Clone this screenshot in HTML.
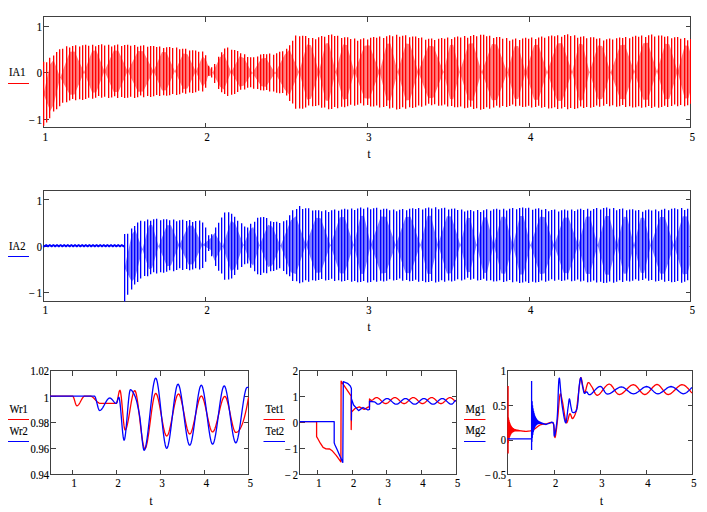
<!DOCTYPE html>
<html><head><meta charset="utf-8"><style>
html,body{margin:0;padding:0;background:#fff;width:707px;height:512px;overflow:hidden}
svg{display:block}
text{font-family:"Liberation Serif",serif;fill:#000;stroke:#000;stroke-width:0.15px}
</style></head><body>
<svg width="707" height="512" viewBox="0 0 707 512">
<defs>
<clipPath id="c1"><rect x="43" y="16" width="648" height="112"/></clipPath>
<clipPath id="c2"><rect x="43" y="190" width="648" height="112"/></clipPath>
</defs>
<rect width="707" height="512" fill="#fff"/>
<path d='M43.5,16.5H690.5V127.5H43.5Z' fill='none' stroke='#404040' stroke-width='1' shape-rendering='crispEdges'/>
<path d='M43.5,26.5h5M690.5,26.5h-5M43.5,72.5h5M690.5,72.5h-5M43.5,119.5h5M690.5,119.5h-5M205.5,127.5v-5M205.5,16.5v5M367.5,127.5v-5M367.5,16.5v5M529.5,127.5v-5M529.5,16.5v5' fill='none' stroke='#404040' stroke-width='1' shape-rendering='crispEdges'/>
<clipPath id='envc1'><polygon points='43.5,64 44.5,63.88 45.5,63.76 46.5,63.64 47.5,62.78 48.5,61.6 49.5,60.42 50.5,59.24 51.5,58.04 52.5,56.85 53.5,55.65 54.5,54.91 55.5,54.23 56.5,53.55 57.5,52.87 58.5,52.19 59.5,51.5 60.5,50.84 61.5,50.35 62.5,49.86 63.5,49.37 64.5,48.88 65.5,48.38 66.5,47.89 67.5,47.54 68.5,47.5 69.5,47.47 70.5,47.43 71.5,47.4 72.5,47.36 73.5,47.32 74.5,47.29 75.5,47.25 76.5,47.22 77.5,47.18 78.5,47.14 79.5,47.11 80.5,47.07 81.5,47.04 82.5,47 83.5,46.97 84.5,46.93 85.5,46.89 86.5,46.86 87.5,46.82 88.5,46.79 89.5,46.75 90.5,46.71 91.5,46.68 92.5,46.64 93.5,46.61 94.5,46.57 95.5,46.53 96.5,46.5 97.5,46.46 98.5,46.43 99.5,46.39 100.5,46.38 101.5,46.39 102.5,46.4 103.5,46.41 104.5,46.42 105.5,46.44 106.5,46.45 107.5,46.46 108.5,46.47 109.5,46.48 110.5,46.49 111.5,46.5 112.5,46.52 113.5,46.53 114.5,46.54 115.5,46.55 116.5,46.56 117.5,46.57 118.5,46.58 119.5,46.6 120.5,46.61 121.5,46.62 122.5,46.63 123.5,46.64 124.5,46.65 125.5,46.66 126.5,46.67 127.5,46.69 128.5,46.7 129.5,46.71 130.5,46.72 131.5,46.73 132.5,46.74 133.5,46.75 134.5,46.79 135.5,46.84 136.5,46.9 137.5,46.96 138.5,47.01 139.5,47.07 140.5,47.13 141.5,47.18 142.5,47.24 143.5,47.3 144.5,47.35 145.5,47.41 146.5,47.47 147.5,47.52 148.5,47.58 149.5,47.63 150.5,47.69 151.5,47.75 152.5,47.8 153.5,47.86 154.5,47.92 155.5,47.97 156.5,48.03 157.5,48.09 158.5,48.14 159.5,48.2 160.5,48.26 161.5,48.31 162.5,48.37 163.5,48.43 164.5,48.48 165.5,48.54 166.5,48.59 167.5,48.65 168.5,48.71 169.5,48.76 170.5,48.82 171.5,48.88 172.5,48.93 173.5,48.99 174.5,49.05 175.5,49.1 176.5,49.16 177.5,49.22 178.5,49.27 179.5,49.33 180.5,49.45 181.5,49.64 182.5,49.83 183.5,50.02 184.5,50.2 185.5,50.39 186.5,50.58 187.5,50.77 188.5,50.96 189.5,51.15 190.5,51.34 191.5,51.52 192.5,51.71 193.5,51.9 194.5,52.09 195.5,52.28 196.5,52.47 197.5,52.61 198.5,52.71 199.5,52.81 200.5,52.91 201.5,53 202.5,53.1 203.5,53.2 204.5,53.3 205.5,56.39 206.5,59.93 207.5,63.94 208.5,66.27 209.5,66.93 210.5,67.59 211.5,67.91 212.5,68.19 213.5,67.31 214.5,65.28 215.5,63.24 216.5,61.25 217.5,59.32 218.5,57.39 219.5,55.46 220.5,53.53 221.5,52.15 222.5,51.33 223.5,50.52 224.5,49.7 225.5,48.89 226.5,48.85 227.5,49.15 228.5,49.45 229.5,49.75 230.5,50.06 231.5,50.39 232.5,50.75 233.5,51.11 234.5,51.48 235.5,51.84 236.5,52.2 237.5,52.56 238.5,52.93 239.5,53.3 240.5,53.78 241.5,54.26 242.5,54.75 243.5,55.23 244.5,55.71 245.5,56.19 246.5,56.67 247.5,57.15 248.5,57.54 249.5,57.85 250.5,58.17 251.5,58.49 252.5,58.81 253.5,58.73 254.5,58.26 255.5,57.8 256.5,57.33 257.5,56.86 258.5,56.39 259.5,55.92 260.5,55.72 261.5,55.63 262.5,55.54 263.5,55.46 264.5,55.37 265.5,55.28 266.5,55.2 267.5,55.11 268.5,55.04 269.5,55.05 270.5,55.05 271.5,55.06 272.5,55.06 273.5,55.07 274.5,55.07 275.5,54.89 276.5,54.51 277.5,54.14 278.5,53.76 279.5,53.39 280.5,53.01 281.5,52.64 282.5,52.27 283.5,51.89 284.5,51.36 285.5,50.81 286.5,49.46 287.5,47.31 288.5,45.84 289.5,45.05 290.5,44.24 291.5,43.38 292.5,42.27 293.5,40.93 294.5,39.58 295.5,38.22 296.5,36.88 297.5,36.33 298.5,36.59 299.5,36.84 300.5,37.1 301.5,37.36 302.5,37.61 303.5,37.87 304.5,38.13 305.5,38.38 306.5,38.64 307.5,38.9 308.5,39.15 309.5,39.41 310.5,39.67 311.5,39.92 312.5,39.87 313.5,39.69 314.5,39.5 315.5,39.32 316.5,39.13 317.5,38.95 318.5,38.76 319.5,38.58 320.5,38.39 321.5,38.21 322.5,38.03 323.5,37.84 324.5,37.66 325.5,37.47 326.5,37.29 327.5,37.1 328.5,36.92 329.5,36.73 330.5,36.55 331.5,36.73 332.5,36.9 333.5,37.08 334.5,37.26 335.5,37.43 336.5,37.61 337.5,37.79 338.5,37.97 339.5,38.14 340.5,38.32 341.5,38.5 342.5,38.67 343.5,38.85 344.5,39.03 345.5,39.2 346.5,39.38 347.5,39.56 348.5,39.73 349.5,39.91 350.5,40.06 351.5,40.17 352.5,40.29 353.5,40.4 354.5,40.52 355.5,40.63 356.5,40.75 357.5,40.86 358.5,40.98 359.5,40.91 360.5,40.8 361.5,40.69 362.5,40.58 363.5,40.46 364.5,40.35 365.5,40.24 366.5,40.13 367.5,40.02 368.5,39.9 369.5,39.79 370.5,39.68 371.5,39.57 372.5,39.46 373.5,39.35 374.5,39.23 375.5,39.12 376.5,39.01 377.5,38.9 378.5,38.79 379.5,38.67 380.5,38.56 381.5,38.45 382.5,38.34 383.5,38.23 384.5,38.12 385.5,38 386.5,37.89 387.5,37.78 388.5,37.67 389.5,37.56 390.5,37.44 391.5,37.33 392.5,37.22 393.5,37.11 394.5,37 395.5,36.89 396.5,36.77 397.5,36.66 398.5,36.55 399.5,36.68 400.5,36.8 401.5,36.93 402.5,37.06 403.5,37.18 404.5,37.31 405.5,37.43 406.5,37.56 407.5,37.69 408.5,37.81 409.5,37.94 410.5,38.07 411.5,38.19 412.5,38.32 413.5,38.45 414.5,38.57 415.5,38.7 416.5,38.83 417.5,38.95 418.5,39.08 419.5,39.2 420.5,39.33 421.5,39.46 422.5,39.58 423.5,39.71 424.5,39.84 425.5,39.96 426.5,40.09 427.5,40.22 428.5,40.34 429.5,40.47 430.5,40.6 431.5,40.72 432.5,40.85 433.5,40.97 434.5,40.92 435.5,40.83 436.5,40.73 437.5,40.64 438.5,40.54 439.5,40.45 440.5,40.35 441.5,40.26 442.5,40.16 443.5,40.07 444.5,39.97 445.5,39.88 446.5,39.78 447.5,39.69 448.5,39.59 449.5,39.5 450.5,39.4 451.5,39.31 452.5,39.21 453.5,39.12 454.5,39.02 455.5,38.93 456.5,38.83 457.5,38.74 458.5,38.64 459.5,38.55 460.5,38.45 461.5,38.36 462.5,38.26 463.5,38.17 464.5,38.07 465.5,37.98 466.5,37.88 467.5,37.79 468.5,37.69 469.5,37.6 470.5,37.5 471.5,37.41 472.5,37.31 473.5,37.22 474.5,37.12 475.5,37.03 476.5,36.93 477.5,36.84 478.5,36.74 479.5,36.65 480.5,36.55 481.5,36.69 482.5,36.82 483.5,36.96 484.5,37.1 485.5,37.23 486.5,37.37 487.5,37.51 488.5,37.65 489.5,37.78 490.5,37.92 491.5,38.06 492.5,38.19 493.5,38.33 494.5,38.47 495.5,38.6 496.5,38.74 497.5,38.88 498.5,39.01 499.5,39.15 500.5,39.29 501.5,39.43 502.5,39.56 503.5,39.7 504.5,39.84 505.5,39.97 506.5,40.11 507.5,40.25 508.5,40.38 509.5,40.52 510.5,40.66 511.5,40.79 512.5,40.93 513.5,40.96 514.5,40.88 515.5,40.79 516.5,40.71 517.5,40.63 518.5,40.55 519.5,40.46 520.5,40.38 521.5,40.3 522.5,40.22 523.5,40.13 524.5,40.05 525.5,39.97 526.5,39.89 527.5,39.81 528.5,39.72 529.5,39.64 530.5,39.56 531.5,39.48 532.5,39.39 533.5,39.31 534.5,39.23 535.5,39.15 536.5,39.06 537.5,38.98 538.5,38.9 539.5,38.82 540.5,38.73 541.5,38.65 542.5,38.57 543.5,38.49 544.5,38.4 545.5,38.32 546.5,38.24 547.5,38.16 548.5,38.07 549.5,37.99 550.5,37.91 551.5,37.83 552.5,37.74 553.5,37.66 554.5,37.58 555.5,37.5 556.5,37.42 557.5,37.33 558.5,37.25 559.5,37.17 560.5,37.09 561.5,37 562.5,36.92 563.5,36.84 564.5,36.76 565.5,36.67 566.5,36.59 567.5,36.61 568.5,36.72 569.5,36.83 570.5,36.94 571.5,37.05 572.5,37.16 573.5,37.27 574.5,37.38 575.5,37.5 576.5,37.61 577.5,37.72 578.5,37.83 579.5,37.94 580.5,38.05 581.5,38.16 582.5,38.27 583.5,38.39 584.5,38.5 585.5,38.61 586.5,38.72 587.5,38.83 588.5,38.94 589.5,39.05 590.5,39.16 591.5,39.28 592.5,39.39 593.5,39.5 594.5,39.61 595.5,39.72 596.5,39.83 597.5,39.94 598.5,40.05 599.5,40.17 600.5,40.28 601.5,40.39 602.5,40.5 603.5,40.61 604.5,40.72 605.5,40.83 606.5,40.94 607.5,40.95 608.5,40.85 609.5,40.74 610.5,40.64 611.5,40.54 612.5,40.44 613.5,40.33 614.5,40.23 615.5,40.13 616.5,40.03 617.5,39.93 618.5,39.82 619.5,39.72 620.5,39.62 621.5,39.52 622.5,39.41 623.5,39.31 624.5,39.21 625.5,39.11 626.5,39 627.5,38.9 628.5,38.8 629.5,38.7 630.5,38.6 631.5,38.49 632.5,38.39 633.5,38.29 634.5,38.19 635.5,38.08 636.5,37.98 637.5,37.88 638.5,37.78 639.5,37.67 640.5,37.57 641.5,37.47 642.5,37.37 643.5,37.27 644.5,37.16 645.5,37.06 646.5,36.96 647.5,36.86 648.5,36.75 649.5,36.65 650.5,36.65 651.5,36.74 652.5,36.84 653.5,36.94 654.5,37.03 655.5,37.13 656.5,37.23 657.5,37.32 658.5,37.42 659.5,37.51 660.5,37.61 661.5,37.71 662.5,37.8 663.5,37.9 664.5,38 665.5,38.09 666.5,38.19 667.5,38.29 668.5,38.38 669.5,38.48 670.5,38.57 671.5,38.67 672.5,38.77 673.5,38.86 674.5,38.96 675.5,39.06 676.5,39.15 677.5,39.25 678.5,39.34 679.5,39.44 680.5,39.54 681.5,39.63 682.5,39.73 683.5,39.83 684.5,39.92 685.5,40.02 686.5,40.11 687.5,40.21 688.5,40.31 689.5,40.4 690.5,40.5 690.5,103.5 689.5,103.56 688.5,103.62 687.5,103.69 686.5,103.75 685.5,103.81 684.5,103.87 683.5,103.93 682.5,103.99 681.5,104.06 680.5,104.12 679.5,104.18 678.5,104.24 677.5,104.3 676.5,104.36 675.5,104.43 674.5,104.49 673.5,104.55 672.5,104.61 671.5,104.67 670.5,104.73 669.5,104.8 668.5,104.86 667.5,104.92 666.5,104.98 665.5,105.04 664.5,105.1 663.5,105.17 662.5,105.23 661.5,105.29 660.5,105.35 659.5,105.41 658.5,105.48 657.5,105.54 656.5,105.6 655.5,105.66 654.5,105.72 653.5,105.78 652.5,105.85 651.5,105.91 650.5,105.97 649.5,105.98 648.5,105.93 647.5,105.88 646.5,105.84 645.5,105.79 644.5,105.74 643.5,105.7 642.5,105.65 641.5,105.6 640.5,105.56 639.5,105.51 638.5,105.47 637.5,105.42 636.5,105.37 635.5,105.33 634.5,105.28 633.5,105.23 632.5,105.19 631.5,105.14 630.5,105.09 629.5,105.05 628.5,105 627.5,104.95 626.5,104.91 625.5,104.86 624.5,104.81 623.5,104.77 622.5,104.72 621.5,104.67 620.5,104.63 619.5,104.58 618.5,104.53 617.5,104.49 616.5,104.44 615.5,104.4 614.5,104.35 613.5,104.3 612.5,104.26 611.5,104.21 610.5,104.16 609.5,104.12 608.5,104.07 607.5,104.02 606.5,104.04 605.5,104.13 604.5,104.22 603.5,104.3 602.5,104.39 601.5,104.47 600.5,104.56 599.5,104.65 598.5,104.73 597.5,104.82 596.5,104.91 595.5,104.99 594.5,105.08 593.5,105.16 592.5,105.25 591.5,105.34 590.5,105.42 589.5,105.51 588.5,105.6 587.5,105.68 586.5,105.77 585.5,105.85 584.5,105.94 583.5,106.03 582.5,106.11 581.5,106.2 580.5,106.29 579.5,106.37 578.5,106.46 577.5,106.54 576.5,106.63 575.5,106.72 574.5,106.8 573.5,106.89 572.5,106.98 571.5,107.06 570.5,107.15 569.5,107.23 568.5,107.32 567.5,107.41 566.5,107.42 565.5,107.35 564.5,107.29 563.5,107.23 562.5,107.16 561.5,107.1 560.5,107.03 559.5,106.97 558.5,106.91 557.5,106.84 556.5,106.78 555.5,106.72 554.5,106.65 553.5,106.59 552.5,106.52 551.5,106.46 550.5,106.4 549.5,106.33 548.5,106.27 547.5,106.2 546.5,106.14 545.5,106.08 544.5,106.01 543.5,105.95 542.5,105.88 541.5,105.82 540.5,105.76 539.5,105.69 538.5,105.63 537.5,105.57 536.5,105.5 535.5,105.44 534.5,105.37 533.5,105.31 532.5,105.25 531.5,105.18 530.5,105.12 529.5,105.05 528.5,104.99 527.5,104.93 526.5,104.86 525.5,104.8 524.5,104.73 523.5,104.67 522.5,104.61 521.5,104.54 520.5,104.48 519.5,104.42 518.5,104.35 517.5,104.29 516.5,104.22 515.5,104.16 514.5,104.1 513.5,104.03 512.5,104.05 511.5,104.16 510.5,104.27 509.5,104.37 508.5,104.48 507.5,104.58 506.5,104.69 505.5,104.8 504.5,104.9 503.5,105.01 502.5,105.11 501.5,105.22 500.5,105.33 499.5,105.43 498.5,105.54 497.5,105.65 496.5,105.75 495.5,105.86 494.5,105.96 493.5,106.07 492.5,106.18 491.5,106.28 490.5,106.39 489.5,106.49 488.5,106.6 487.5,106.71 486.5,106.81 485.5,106.92 484.5,107.03 483.5,107.13 482.5,107.24 481.5,107.34 480.5,107.45 479.5,107.35 478.5,107.26 477.5,107.16 476.5,107.07 475.5,106.97 474.5,106.88 473.5,106.78 472.5,106.69 471.5,106.59 470.5,106.5 469.5,106.4 468.5,106.31 467.5,106.21 466.5,106.12 465.5,106.02 464.5,105.93 463.5,105.83 462.5,105.74 461.5,105.64 460.5,105.55 459.5,105.45 458.5,105.36 457.5,105.26 456.5,105.17 455.5,105.07 454.5,104.98 453.5,104.88 452.5,104.79 451.5,104.69 450.5,104.6 449.5,104.5 448.5,104.41 447.5,104.31 446.5,104.22 445.5,104.12 444.5,104.03 443.5,103.93 442.5,103.84 441.5,103.74 440.5,103.65 439.5,103.55 438.5,103.46 437.5,103.36 436.5,103.27 435.5,103.17 434.5,103.08 433.5,103.03 432.5,103.15 431.5,103.28 430.5,103.4 429.5,103.53 428.5,103.66 427.5,103.78 426.5,103.91 425.5,104.04 424.5,104.16 423.5,104.29 422.5,104.42 421.5,104.54 420.5,104.67 419.5,104.8 418.5,104.92 417.5,105.05 416.5,105.17 415.5,105.3 414.5,105.43 413.5,105.55 412.5,105.68 411.5,105.81 410.5,105.93 409.5,106.06 408.5,106.19 407.5,106.31 406.5,106.44 405.5,106.57 404.5,106.69 403.5,106.82 402.5,106.94 401.5,107.07 400.5,107.2 399.5,107.32 398.5,107.45 397.5,107.34 396.5,107.23 395.5,107.11 394.5,107 393.5,106.89 392.5,106.78 391.5,106.67 390.5,106.56 389.5,106.44 388.5,106.33 387.5,106.22 386.5,106.11 385.5,106 384.5,105.88 383.5,105.77 382.5,105.66 381.5,105.55 380.5,105.44 379.5,105.33 378.5,105.21 377.5,105.1 376.5,104.99 375.5,104.88 374.5,104.77 373.5,104.65 372.5,104.54 371.5,104.43 370.5,104.32 369.5,104.21 368.5,104.1 367.5,103.98 366.5,103.87 365.5,103.76 364.5,103.65 363.5,103.54 362.5,103.42 361.5,103.31 360.5,103.2 359.5,103.09 358.5,103.02 357.5,103.14 356.5,103.25 355.5,103.37 354.5,103.48 353.5,103.6 352.5,103.71 351.5,103.83 350.5,103.94 349.5,104.09 348.5,104.27 347.5,104.44 346.5,104.62 345.5,104.8 344.5,104.97 343.5,105.15 342.5,105.33 341.5,105.5 340.5,105.68 339.5,105.86 338.5,106.03 337.5,106.21 336.5,106.39 335.5,106.57 334.5,106.74 333.5,106.92 332.5,107.1 331.5,107.27 330.5,107.45 329.5,107.27 328.5,107.08 327.5,106.9 326.5,106.71 325.5,106.53 324.5,106.34 323.5,106.16 322.5,105.97 321.5,105.79 320.5,105.61 319.5,105.42 318.5,105.24 317.5,105.05 316.5,104.87 315.5,104.68 314.5,104.5 313.5,104.31 312.5,104.13 311.5,104.08 310.5,104.33 309.5,104.59 308.5,104.85 307.5,105.1 306.5,105.36 305.5,105.62 304.5,105.87 303.5,106.13 302.5,106.39 301.5,106.64 300.5,106.9 299.5,107.16 298.5,107.41 297.5,107.67 296.5,107.28 295.5,106.25 294.5,105.23 293.5,104.19 292.5,103.16 291.5,102.02 290.5,100.76 289.5,99.55 288.5,98.36 287.5,96.69 286.5,94.54 285.5,93.28 284.5,92.89 283.5,92.53 282.5,92.31 281.5,92.1 280.5,91.89 279.5,91.68 278.5,91.47 277.5,91.26 276.5,91.04 275.5,90.83 274.5,90.65 273.5,90.51 272.5,90.37 271.5,90.22 270.5,90.08 269.5,89.93 268.5,89.79 267.5,89.67 266.5,89.56 265.5,89.45 264.5,89.34 263.5,89.23 262.5,89.12 261.5,89.01 260.5,88.9 259.5,88.76 258.5,88.55 257.5,88.35 256.5,88.15 255.5,87.94 254.5,87.74 253.5,87.54 252.5,87.36 251.5,87.2 250.5,87.05 249.5,86.9 248.5,86.75 247.5,86.8 246.5,87.16 245.5,87.53 244.5,87.89 243.5,88.25 242.5,88.62 241.5,88.98 240.5,89.35 239.5,89.71 238.5,90.18 237.5,90.66 236.5,91.14 235.5,91.63 234.5,92.11 233.5,92.59 232.5,93.07 231.5,93.55 230.5,93.87 229.5,94.01 228.5,94.16 227.5,94.31 226.5,94.46 225.5,94.31 224.5,93.5 223.5,92.68 222.5,91.86 221.5,91.05 220.5,90.09 219.5,89 218.5,87.91 217.5,86.82 216.5,85.73 215.5,83.93 214.5,81.42 213.5,78.92 212.5,77.39 211.5,76.84 210.5,76.31 209.5,75.97 208.5,75.63 207.5,77.61 206.5,81.91 205.5,85.94 204.5,89.7 203.5,89.83 202.5,89.95 201.5,90.08 200.5,90.2 199.5,90.33 198.5,90.45 197.5,90.58 196.5,90.71 195.5,90.84 194.5,90.98 193.5,91.11 192.5,91.25 191.5,91.39 190.5,91.52 189.5,91.66 188.5,91.79 187.5,91.93 186.5,92.06 185.5,92.2 184.5,92.33 183.5,92.47 182.5,92.6 181.5,92.74 180.5,92.88 179.5,92.98 178.5,93.04 177.5,93.11 176.5,93.18 175.5,93.25 174.5,93.31 173.5,93.38 172.5,93.45 171.5,93.52 170.5,93.58 169.5,93.65 168.5,93.72 167.5,93.78 166.5,93.85 165.5,93.92 164.5,93.99 163.5,94.05 162.5,94.12 161.5,94.19 160.5,94.26 159.5,94.32 158.5,94.39 157.5,94.46 156.5,94.53 155.5,94.59 154.5,94.66 153.5,94.73 152.5,94.79 151.5,94.86 150.5,94.93 149.5,95 148.5,95.06 147.5,95.13 146.5,95.2 145.5,95.27 144.5,95.33 143.5,95.4 142.5,95.47 141.5,95.54 140.5,95.6 139.5,95.67 138.5,95.74 137.5,95.8 136.5,95.87 135.5,95.94 134.5,96.01 133.5,96.04 132.5,96.04 131.5,96.04 130.5,96.04 129.5,96.04 128.5,96.04 127.5,96.04 126.5,96.04 125.5,96.04 124.5,96.04 123.5,96.04 122.5,96.04 121.5,96.04 120.5,96.03 119.5,96.03 118.5,96.03 117.5,96.03 116.5,96.03 115.5,96.03 114.5,96.03 113.5,96.03 112.5,96.03 111.5,96.03 110.5,96.03 109.5,96.03 108.5,96.03 107.5,96.03 106.5,96.03 105.5,96.03 104.5,96.03 103.5,96.03 102.5,96.03 101.5,96.03 100.5,96.03 99.5,96.08 98.5,96.18 97.5,96.28 96.5,96.38 95.5,96.48 94.5,96.58 93.5,96.69 92.5,96.79 91.5,96.89 90.5,96.99 89.5,97.09 88.5,97.19 87.5,97.29 86.5,97.39 85.5,97.5 84.5,97.6 83.5,97.7 82.5,97.8 81.5,97.9 80.5,98 79.5,98.1 78.5,98.21 77.5,98.31 76.5,98.41 75.5,98.51 74.5,98.61 73.5,98.71 72.5,98.81 71.5,98.91 70.5,99.02 69.5,99.12 68.5,99.22 67.5,99.32 66.5,99.81 65.5,100.47 64.5,101.12 63.5,101.78 62.5,102.43 61.5,103.09 60.5,103.74 59.5,104.56 58.5,105.39 57.5,106.23 56.5,107.06 55.5,107.89 54.5,108.72 53.5,109.66 52.5,111.49 51.5,113.32 50.5,115.15 49.5,117 48.5,118.85 47.5,120.7 46.5,122.18 45.5,122.79 44.5,123.39 43.5,124'/></clipPath>
<g clip-path='url(#c1)'>
<path d='M43.5 94L50.21 64.2L53.56 60.01L60.26 77.45L53.56 105.12L50.21 111.08ZM60.26 77.45L69.78 51.7L74.54 51.5L84.06 72.29L74.54 94.39L69.78 94.85ZM84.06 72.29L92.22 50.77L96.29 50.6L104.45 71.23L96.29 92.3L92.22 92.69ZM104.45 71.23L113.74 50.6L118.39 50.64L127.68 71.36L118.39 91.97L113.74 91.97ZM127.68 71.36L137.99 50.99L143.15 51.23L153.46 71.29L143.15 91.47L137.99 91.76ZM153.46 71.29L162.01 52.1L166.29 52.3L174.85 71.18L166.29 90.15L162.01 90.39ZM174.85 71.18L183.25 53.46L187.45 54.14L195.86 71.57L187.45 88.55L183.25 89.01ZM195.86 71.57L202.55 56.13L205.89 59.8L212.58 72.82L205.89 82.27L202.55 86.92ZM212.58 72.82L220.05 57.29L223.79 53.79L231.26 71.98L223.79 89.41L220.05 86.71ZM231.26 71.98L239.66 56.36L243.86 58.09L252.26 73.03L243.86 85.44L239.66 86.67ZM252.26 73.03L261.38 58.38L265.94 58.06L275.05 72.9L265.94 86.68L261.38 86.25ZM275.05 72.9L284.67 54.69L289.48 49.54L299.09 72L289.48 95.05L284.67 89.53ZM299.09 72L307.01 44.52L310.98 45.32L318.9 72L310.98 98.68L307.01 99.48ZM318.9 72L325.56 43.5L328.9 43.02L335.56 72L328.9 100.98L325.56 100.5ZM335.56 72L343.11 44.53L346.89 45.05L354.44 72L346.89 98.95L343.11 99.47ZM354.44 72L364.48 45.76L369.5 45.32L379.54 72L369.5 98.68L364.48 98.24ZM379.54 72L386.79 43.81L390.42 43.49L397.67 72L390.42 100.51L386.79 100.19ZM397.67 72L405.88 43.52L409.98 43.92L418.19 72L409.98 100.08L405.88 100.48ZM418.19 72L428.32 45.73L433.38 46.23L443.5 72L433.38 97.77L428.32 98.27ZM443.5 72L450 45.05L453.25 44.81L459.75 72L453.25 99.19L450 98.95ZM459.75 72L468.55 43.67L472.96 43.35L481.76 72.02L472.96 100.65L468.55 100.33ZM481.76 72.02L491.96 44.05L497.06 44.61L507.26 72.41L497.06 99.9L491.96 100.3ZM507.26 72.41L514.58 46.27L518.24 46.02L525.56 72.38L518.24 98.88L514.58 98.71ZM525.56 72.38L534.16 44.97L538.45 44.68L547.05 72.18L538.45 99.85L534.16 99.64ZM547.05 72.18L557.08 43.45L562.1 43.11L572.14 72.06L562.1 100.98L557.08 100.74ZM572.14 72.06L579.07 43.87L582.54 44.18L589.47 72.28L582.54 100.21L579.07 100.43ZM589.47 72.28L597.96 45.56L602.21 45.94L610.7 72.4L602.21 98.94L597.96 99.21ZM610.7 72.4L620.11 45.24L624.81 44.84L634.21 71.74L624.81 99.17L620.11 99.03ZM634.21 71.74L643.28 43.25L647.82 42.86L656.9 71.42L647.82 99.86L643.28 99.72ZM656.9 71.42L665.17 43.87L669.31 44.2L677.58 71.78L669.31 99.07L665.17 99.25ZM677.58 71.78L684.8 45.42L688.41 45.7L695.62 72L688.41 98.22L684.8 98.38Z' fill='#ff8080' clip-path='url(#envc1)'/>
<path d='M43.65 61.7V125.67M46.65 62.26V122.39M49.65 57.71V118.25M53.65 55.55V111.41M56.65 51.92V109.32M59.65 49.21V106.21M62.65 48.67V102.85M66.65 46.16V102.13M69.65 47.41V100.55M72.65 45.95V98.9M75.65 45.19V100.37M79.65 46.47V99.13M82.65 45.29V99.92M85.65 44.79V99.1M88.65 45.64V97.63M92.65 44.73V98.81M95.65 46.24V97.75M98.65 44.93V96.04M101.65 44.36V97.78M104.65 45.59V96.82M108.65 44.69V98.06M111.65 46.58V97.49M114.65 45.27V96.28M117.65 44.61V97.92M121.65 46.1V97.11M124.65 45.04V98.09M127.65 44.64V97.69M130.65 45.71V96.63M134.65 44.91V98.01M137.65 46.78V97.13M140.65 45.74V95.62M143.65 45.35V97.15M147.65 46.79V96.04M150.65 46.02V96.91M153.65 45.89V96.2M156.65 46.92V94.89M159.65 46.41V96.11M163.65 48.03V95.18M166.65 47.16V95.77M169.65 46.89V95.22M172.65 48.11V94.09M176.65 47.49V95.03M179.65 49.27V94.26M182.65 48.66V92.76M185.65 48.74V93.76M189.65 50.53V92.59M192.65 50.29V92.98M195.65 50.61V92.16M198.65 51.85V90.87M202.65 51.57V91.55M205.65 55.36V87.79M208.65 65.75V75.83M211.65 67.36V77.52M214.65 63.88V83.05M218.65 56.82V88.91M221.65 52.26V92.22M224.65 48.44V93.92M227.65 47.47V96.01M231.65 49.81V94.74M234.65 50.07V93.93M237.65 50.95V91.97M240.65 53.17V89.76M244.65 54.19V89.46M247.65 56.88V87.8M250.65 57.26V87.21M253.65 57.31V88.78M257.65 56.56V88.95M260.65 54.51V90.34M263.65 53.95V90.39M266.65 54.3V89.97M269.65 53.61V91.46M273.65 54.74V91.41M276.65 53.35V92.63M279.65 51.68V93.13M282.65 51.36V93.07M286.65 48.66V95.54M289.65 45.23V100.93M292.65 40.71V103.49M295.65 35.59V108.68M299.65 36.13V108.43M302.65 35.75V108.73M305.65 36.1V107.43M308.65 38.07V105.39M312.65 37.88V106.23M315.65 39.16V106.08M318.65 37.18V105.19M321.65 35.93V107.82M324.65 36.75V107.39M328.65 35.05V109.29M331.65 34.41V108.98M334.65 35.95V107.09M337.65 35.7V108.28M341.65 37.97V106.84M344.65 37.27V107.3M347.65 37.3V106.32M350.65 39.07V104.66M354.65 38.44V105.76M357.65 40.79V104.7M360.65 39.3V103.33M363.65 38.22V105.62M367.65 39.39V105.01M370.65 37.85V106.57M373.65 37.05V106.42M376.65 37.77V105.54M379.65 36.51V107.55M383.65 37.96V107.12M386.65 36.26V105.96M389.65 35.28V108.42M392.65 36.28V107.71M396.65 34.85V109.44M399.65 36.78V108.98M402.65 35.67V107.22M405.65 35.3V108.63M409.65 37.34V107.32M412.65 36.51V108M415.65 36.42V107.14M418.65 38.01V105.56M421.65 37.46V106.69M425.65 39.78V105.55M428.65 38.78V103.69M431.65 38.51V105.27M434.65 40.11V104.13M438.65 38.68V105.7M441.65 37.97V105.45M444.65 38.67V104.47M447.65 37.51V106.5M451.65 38.95V105.97M454.65 37.34V107.26M457.65 36.46V107.19M460.65 37.44V106.38M464.65 36.11V108.13M467.65 37.82V107.77M470.65 36.04V106.69M473.65 34.99V108.88M476.65 36.25V108.25M480.65 34.75V109.71M483.65 34.66V108.94M486.65 36.22V107.37M489.65 35.75V108.64M493.65 38.04V107.53M496.65 37.12V105.68M499.65 36.92V107.4M502.65 38.76V106.01M506.65 38.11V107M509.65 40.68V106.06M512.65 39.59V104.39M515.65 38.6V106.3M519.65 40.01V105.63M522.65 38.49V106.89M525.65 37.69V106.67M528.65 38.64V105.73M531.65 37.4V107.43M535.65 39.08V106.94M538.65 37.38V105.71M541.65 36.41V107.87M544.65 37.65V107.1M548.65 36.23V108.53M551.65 35.54V108.2M554.65 36.32V107.15M557.65 35.18V109.03M561.65 36.7V108.43M564.65 35.1V107.1M567.65 34.35V109.34M570.65 36.04V107.98M574.65 35.35V109.09M577.65 37.77V108.18M580.65 36.63V106.53M583.65 36.22V108.1M586.65 38.19V106.9M590.65 37.33V107.74M593.65 37.2V107M596.65 38.72V105.52M599.65 38.14V106.81M603.65 40.39V105.79M606.65 39.36V104.04M609.65 38.49V106.13M612.65 39.6V105.25M616.65 38.15V106.69M619.65 37.44V106.27M622.65 38.09V105.12M625.65 36.93V107.01M629.65 38.31V106.31M632.65 36.7V107.47M635.65 35.81V107.23M638.65 36.74V106.25M641.65 35.4V107.86M645.65 37.07V107.33M648.65 35.28V106.08M651.65 34.55V107.96M654.65 36.41V106.8M658.65 35.54V107.78M661.65 35.4V107.08M664.65 36.81V105.64M667.65 36.22V107.08M671.65 38.35V106.09M674.65 37.31V104.38M677.65 37V106.27M680.65 38.68V105M684.65 37.92V106.16M687.65 40.33V105.35M690.65 39.12V103.81' stroke='#ff0000' stroke-width='1.3' fill='none' />
</g>
<path d='M43.5,190.5H690.5V301.5H43.5Z' fill='none' stroke='#404040' stroke-width='1' shape-rendering='crispEdges'/>
<path d='M43.5,199.5h5M690.5,199.5h-5M43.5,246.5h5M690.5,246.5h-5M43.5,292.5h5M690.5,292.5h-5M205.5,301.5v-5M205.5,190.5v5M367.5,301.5v-5M367.5,190.5v5M529.5,301.5v-5M529.5,190.5v5' fill='none' stroke='#404040' stroke-width='1' shape-rendering='crispEdges'/>
<clipPath id='envc2'><polygon points='124.6,236.3 125.6,236.08 126.6,235.86 127.6,235.29 128.6,233.94 129.6,232.59 130.6,231.24 131.6,229.97 132.6,228.72 133.6,227.48 134.6,226.23 135.6,225.21 136.6,224.73 137.6,224.23 138.6,223.73 139.6,223.23 140.6,222.9 141.6,222.68 142.6,222.47 143.6,222.25 144.6,222.04 145.6,221.82 146.6,221.61 147.6,221.39 148.6,221.18 149.6,220.96 150.6,220.75 151.6,220.56 152.6,220.6 153.6,220.64 154.6,220.68 155.6,220.73 156.6,220.77 157.6,220.81 158.6,220.85 159.6,220.9 160.6,220.94 161.6,220.98 162.6,221.02 163.6,221.07 164.6,221.11 165.6,221.15 166.6,221.19 167.6,221.23 168.6,221.28 169.6,221.32 170.6,221.36 171.6,221.4 172.6,221.45 173.6,221.49 174.6,221.53 175.6,221.57 176.6,221.62 177.6,221.66 178.6,221.7 179.6,221.74 180.6,221.76 181.6,221.76 182.6,221.76 183.6,221.76 184.6,221.76 185.6,221.76 186.6,221.76 187.6,221.76 188.6,221.76 189.6,221.76 190.6,221.76 191.6,221.81 192.6,221.88 193.6,221.95 194.6,222.01 195.6,222.08 196.6,222.15 197.6,222.21 198.6,222.28 199.6,222.35 200.6,222.41 201.6,222.48 202.6,223.48 203.6,225.11 204.6,226.73 205.6,229.03 206.6,231.99 207.6,234.17 208.6,235.84 209.6,237.51 210.6,237.18 211.6,235.51 212.6,233.85 213.6,232.15 214.6,230.17 215.6,228.18 216.6,226.2 217.6,224.22 218.6,222.69 219.6,221.47 220.6,220.24 221.6,219.01 222.6,217.75 223.6,216.44 224.6,215.13 225.6,214.31 226.6,213.82 227.6,213.34 228.6,213 229.6,214 230.6,215 231.6,216 232.6,217 233.6,218 234.6,218.93 235.6,219.84 236.6,220.76 237.6,221.67 238.6,222.58 239.6,223.49 240.6,224.4 241.6,225.32 242.6,226.01 243.6,226.55 244.6,227.1 245.6,227.65 246.6,228.19 247.6,228.59 248.6,227.64 249.6,226.69 250.6,225.74 251.6,224.79 252.6,223.84 253.6,222.89 254.6,221.97 255.6,221.07 256.6,220.17 257.6,219.27 258.6,218.37 259.6,217.47 260.6,217.31 261.6,217.63 262.6,217.96 263.6,218.3 264.6,218.82 265.6,219.35 266.6,219.87 267.6,220.39 268.6,220.92 269.6,221.44 270.6,221.96 271.6,222.48 272.6,223.01 273.6,223.44 274.6,223.53 275.6,223.62 276.6,223.71 277.6,223.8 278.6,223.89 279.6,223.98 280.6,224.07 281.6,224.07 282.6,223.32 283.6,222.57 284.6,221.83 285.6,221.08 286.6,220.33 287.6,219.58 288.6,218.4 289.6,216.9 290.6,215.4 291.6,213.9 292.6,212.8 293.6,211.97 294.6,211.13 295.6,210.3 296.6,209.47 297.6,208.63 298.6,207.8 299.6,208.04 300.6,208.29 301.6,208.53 302.6,208.77 303.6,209.02 304.6,209.26 305.6,209.51 306.6,209.75 307.6,209.99 308.6,210.24 309.6,210.48 310.6,210.72 311.6,210.97 312.6,211.21 313.6,211.45 314.6,211.7 315.6,211.94 316.6,212.19 317.6,212.43 318.6,212.58 319.6,212.53 320.6,212.47 321.6,212.42 322.6,212.36 323.6,212.31 324.6,212.25 325.6,212.2 326.6,212.14 327.6,212.09 328.6,212.03 329.6,211.98 330.6,211.92 331.6,211.86 332.6,211.81 333.6,211.75 334.6,211.7 335.6,211.64 336.6,211.59 337.6,211.53 338.6,211.48 339.6,211.42 340.6,211.36 341.6,211.28 342.6,211.21 343.6,211.14 344.6,211.06 345.6,210.99 346.6,210.92 347.6,210.84 348.6,210.77 349.6,210.7 350.6,210.62 351.6,210.55 352.6,210.48 353.6,210.4 354.6,210.33 355.6,210.26 356.6,210.18 357.6,210.11 358.6,210.04 359.6,209.96 360.6,209.89 361.6,209.82 362.6,209.74 363.6,209.67 364.6,209.6 365.6,209.52 366.6,209.45 367.6,209.38 368.6,209.3 369.6,209.23 370.6,209.27 371.6,209.37 372.6,209.48 373.6,209.59 374.6,209.7 375.6,209.81 376.6,209.92 377.6,210.03 378.6,210.13 379.6,210.24 380.6,210.35 381.6,210.46 382.6,210.57 383.6,210.68 384.6,210.79 385.6,210.9 386.6,211 387.6,211.11 388.6,211.22 389.6,211.33 390.6,211.44 391.6,211.55 392.6,211.66 393.6,211.67 394.6,211.61 395.6,211.55 396.6,211.5 397.6,211.44 398.6,211.38 399.6,211.32 400.6,211.27 401.6,211.21 402.6,211.15 403.6,211.1 404.6,211.04 405.6,210.98 406.6,210.93 407.6,210.87 408.6,210.81 409.6,210.76 410.6,210.7 411.6,210.64 412.6,210.59 413.6,210.53 414.6,210.47 415.6,210.42 416.6,210.36 417.6,210.3 418.6,210.25 419.6,210.19 420.6,210.13 421.6,210.07 422.6,210.02 423.6,209.96 424.6,209.9 425.6,209.85 426.6,209.79 427.6,209.73 428.6,209.68 429.6,209.62 430.6,209.56 431.6,209.51 432.6,209.45 433.6,209.39 434.6,209.34 435.6,209.28 436.6,209.22 437.6,209.26 438.6,209.36 439.6,209.45 440.6,209.55 441.6,209.65 442.6,209.74 443.6,209.84 444.6,209.94 445.6,210.03 446.6,210.13 447.6,210.23 448.6,210.32 449.6,210.42 450.6,210.52 451.6,210.61 452.6,210.71 453.6,210.81 454.6,210.91 455.6,211 456.6,211.1 457.6,211.2 458.6,211.29 459.6,211.39 460.6,211.49 461.6,211.58 462.6,211.68 463.6,211.78 464.6,211.87 465.6,211.97 466.6,212.07 467.6,212.16 468.6,212.26 469.6,212.27 470.6,212.22 471.6,212.18 472.6,212.13 473.6,212.08 474.6,212.03 475.6,211.99 476.6,211.94 477.6,211.89 478.6,211.85 479.6,211.8 480.6,211.75 481.6,211.7 482.6,211.66 483.6,211.61 484.6,211.56 485.6,211.51 486.6,211.47 487.6,211.42 488.6,211.37 489.6,211.32 490.6,211.28 491.6,211.23 492.6,211.18 493.6,211.13 494.6,211.09 495.6,211.04 496.6,210.99 497.6,210.95 498.6,210.9 499.6,210.85 500.6,210.8 501.6,210.76 502.6,210.71 503.6,210.66 504.6,210.61 505.6,210.57 506.6,210.52 507.6,210.47 508.6,210.42 509.6,210.38 510.6,210.33 511.6,210.28 512.6,210.23 513.6,210.19 514.6,210.14 515.6,210.09 516.6,210.05 517.6,210 518.6,209.95 519.6,209.9 520.6,209.86 521.6,209.81 522.6,209.76 523.6,209.71 524.6,209.67 525.6,209.62 526.6,209.65 527.6,209.72 528.6,209.8 529.6,209.88 530.6,209.95 531.6,210.03 532.6,210.11 533.6,210.18 534.6,210.26 535.6,210.34 536.6,210.41 537.6,210.49 538.6,210.57 539.6,210.64 540.6,210.72 541.6,210.8 542.6,210.87 543.6,210.95 544.6,211.03 545.6,211.1 546.6,211.18 547.6,211.26 548.6,211.33 549.6,211.41 550.6,211.49 551.6,211.56 552.6,211.64 553.6,211.72 554.6,211.79 555.6,211.87 556.6,211.95 557.6,212.02 558.6,212.1 559.6,212.05 560.6,212 561.6,211.95 562.6,211.9 563.6,211.85 564.6,211.8 565.6,211.75 566.6,211.7 567.6,211.64 568.6,211.59 569.6,211.54 570.6,211.49 571.6,211.44 572.6,211.39 573.6,211.34 574.6,211.29 575.6,211.24 576.6,211.19 577.6,211.14 578.6,211.09 579.6,211.04 580.6,210.99 581.6,210.94 582.6,210.89 583.6,210.83 584.6,210.78 585.6,210.73 586.6,210.68 587.6,210.63 588.6,210.58 589.6,210.53 590.6,210.48 591.6,210.43 592.6,210.38 593.6,210.33 594.6,210.28 595.6,210.23 596.6,210.18 597.6,210.13 598.6,210.08 599.6,210.03 600.6,209.97 601.6,209.92 602.6,209.87 603.6,209.82 604.6,209.77 605.6,209.72 606.6,209.67 607.6,209.62 608.6,209.65 609.6,209.73 610.6,209.8 611.6,209.88 612.6,209.96 613.6,210.04 614.6,210.12 615.6,210.19 616.6,210.27 617.6,210.35 618.6,210.43 619.6,210.51 620.6,210.58 621.6,210.66 622.6,210.74 623.6,210.82 624.6,210.9 625.6,210.98 626.6,211.05 627.6,211.13 628.6,211.21 629.6,211.29 630.6,211.37 631.6,211.44 632.6,211.52 633.6,211.6 634.6,211.68 635.6,211.76 636.6,211.83 637.6,211.91 638.6,211.99 639.6,212.07 640.6,212.07 641.6,212.02 642.6,211.97 643.6,211.93 644.6,211.88 645.6,211.83 646.6,211.78 647.6,211.73 648.6,211.69 649.6,211.64 650.6,211.59 651.6,211.54 652.6,211.49 653.6,211.44 654.6,211.4 655.6,211.35 656.6,211.3 657.6,211.25 658.6,211.2 659.6,211.16 660.6,211.11 661.6,211.06 662.6,211.01 663.6,210.96 664.6,210.91 665.6,210.87 666.6,210.82 667.6,210.77 668.6,210.72 669.6,210.67 670.6,210.63 671.6,210.58 672.6,210.53 673.6,210.48 674.6,210.43 675.6,210.38 676.6,210.34 677.6,210.29 678.6,210.24 679.6,210.19 680.6,210.14 681.6,210.11 682.6,210.16 683.6,210.22 684.6,210.27 685.6,210.33 686.6,210.38 687.6,210.44 688.6,210.49 689.6,210.55 689.6,280.05 688.6,280.11 687.6,280.16 686.6,280.22 685.6,280.27 684.6,280.33 683.6,280.38 682.6,280.44 681.6,280.49 680.6,280.46 679.6,280.41 678.6,280.36 677.6,280.31 676.6,280.26 675.6,280.22 674.6,280.17 673.6,280.12 672.6,280.07 671.6,280.02 670.6,279.97 669.6,279.93 668.6,279.88 667.6,279.83 666.6,279.78 665.6,279.73 664.6,279.69 663.6,279.64 662.6,279.59 661.6,279.54 660.6,279.49 659.6,279.44 658.6,279.4 657.6,279.35 656.6,279.3 655.6,279.25 654.6,279.2 653.6,279.16 652.6,279.11 651.6,279.06 650.6,279.01 649.6,278.96 648.6,278.91 647.6,278.87 646.6,278.82 645.6,278.77 644.6,278.72 643.6,278.67 642.6,278.63 641.6,278.58 640.6,278.53 639.6,278.53 638.6,278.61 637.6,278.69 636.6,278.77 635.6,278.84 634.6,278.92 633.6,279 632.6,279.08 631.6,279.16 630.6,279.23 629.6,279.31 628.6,279.39 627.6,279.47 626.6,279.55 625.6,279.62 624.6,279.7 623.6,279.78 622.6,279.86 621.6,279.94 620.6,280.02 619.6,280.09 618.6,280.17 617.6,280.25 616.6,280.33 615.6,280.41 614.6,280.48 613.6,280.56 612.6,280.64 611.6,280.72 610.6,280.8 609.6,280.88 608.6,280.95 607.6,280.98 606.6,280.93 605.6,280.88 604.6,280.83 603.6,280.78 602.6,280.73 601.6,280.68 600.6,280.63 599.6,280.57 598.6,280.52 597.6,280.47 596.6,280.42 595.6,280.37 594.6,280.32 593.6,280.27 592.6,280.22 591.6,280.17 590.6,280.12 589.6,280.07 588.6,280.02 587.6,279.97 586.6,279.92 585.6,279.87 584.6,279.82 583.6,279.77 582.6,279.71 581.6,279.66 580.6,279.61 579.6,279.56 578.6,279.51 577.6,279.46 576.6,279.41 575.6,279.36 574.6,279.31 573.6,279.26 572.6,279.21 571.6,279.16 570.6,279.11 569.6,279.06 568.6,279.01 567.6,278.96 566.6,278.9 565.6,278.85 564.6,278.8 563.6,278.75 562.6,278.7 561.6,278.65 560.6,278.6 559.6,278.55 558.6,278.5 557.6,278.58 556.6,278.65 555.6,278.73 554.6,278.81 553.6,278.88 552.6,278.96 551.6,279.04 550.6,279.11 549.6,279.19 548.6,279.27 547.6,279.34 546.6,279.42 545.6,279.5 544.6,279.57 543.6,279.65 542.6,279.73 541.6,279.8 540.6,279.88 539.6,279.96 538.6,280.03 537.6,280.11 536.6,280.19 535.6,280.26 534.6,280.34 533.6,280.42 532.6,280.49 531.6,280.57 530.6,280.65 529.6,280.72 528.6,280.8 527.6,280.88 526.6,280.95 525.6,280.98 524.6,280.92 523.6,280.86 522.6,280.8 521.6,280.75 520.6,280.69 519.6,280.63 518.6,280.57 517.6,280.51 516.6,280.46 515.6,280.4 514.6,280.34 513.6,280.28 512.6,280.22 511.6,280.17 510.6,280.11 509.6,280.05 508.6,279.99 507.6,279.93 506.6,279.88 505.6,279.82 504.6,279.76 503.6,279.7 502.6,279.65 501.6,279.59 500.6,279.53 499.6,279.47 498.6,279.41 497.6,279.36 496.6,279.3 495.6,279.24 494.6,279.18 493.6,279.12 492.6,279.07 491.6,279.01 490.6,278.95 489.6,278.89 488.6,278.83 487.6,278.78 486.6,278.72 485.6,278.66 484.6,278.6 483.6,278.55 482.6,278.49 481.6,278.43 480.6,278.37 479.6,278.31 478.6,278.26 477.6,278.2 476.6,278.14 475.6,278.08 474.6,278.02 473.6,277.97 472.6,277.91 471.6,277.85 470.6,277.79 469.6,277.73 468.6,277.73 467.6,277.82 466.6,277.9 465.6,277.99 464.6,278.07 463.6,278.16 462.6,278.24 461.6,278.32 460.6,278.41 459.6,278.49 458.6,278.58 457.6,278.66 456.6,278.75 455.6,278.83 454.6,278.92 453.6,279 452.6,279.08 451.6,279.17 450.6,279.25 449.6,279.34 448.6,279.42 447.6,279.51 446.6,279.59 445.6,279.67 444.6,279.76 443.6,279.84 442.6,279.93 441.6,280.01 440.6,280.1 439.6,280.18 438.6,280.26 437.6,280.35 436.6,280.38 435.6,280.33 434.6,280.29 433.6,280.24 432.6,280.19 431.6,280.14 430.6,280.09 429.6,280.05 428.6,280 427.6,279.95 426.6,279.9 425.6,279.86 424.6,279.81 423.6,279.76 422.6,279.71 421.6,279.67 420.6,279.62 419.6,279.57 418.6,279.52 417.6,279.47 416.6,279.43 415.6,279.38 414.6,279.33 413.6,279.28 412.6,279.24 411.6,279.19 410.6,279.14 409.6,279.09 408.6,279.04 407.6,279 406.6,278.95 405.6,278.9 404.6,278.85 403.6,278.81 402.6,278.76 401.6,278.71 400.6,278.66 399.6,278.62 398.6,278.57 397.6,278.52 396.6,278.47 395.6,278.42 394.6,278.38 393.6,278.33 392.6,278.34 391.6,278.43 390.6,278.52 389.6,278.61 388.6,278.7 387.6,278.79 386.6,278.88 385.6,278.98 384.6,279.07 383.6,279.16 382.6,279.25 381.6,279.34 380.6,279.43 379.6,279.52 378.6,279.61 377.6,279.71 376.6,279.8 375.6,279.89 374.6,279.98 373.6,280.07 372.6,280.16 371.6,280.25 370.6,280.35 369.6,280.38 368.6,280.34 367.6,280.3 366.6,280.26 365.6,280.22 364.6,280.18 363.6,280.14 362.6,280.1 361.6,280.06 360.6,280.02 359.6,279.98 358.6,279.94 357.6,279.9 356.6,279.86 355.6,279.82 354.6,279.78 353.6,279.74 352.6,279.7 351.6,279.66 350.6,279.62 349.6,279.58 348.6,279.54 347.6,279.5 346.6,279.46 345.6,279.42 344.6,279.38 343.6,279.34 342.6,279.3 341.6,279.26 340.6,279.22 339.6,279.18 338.6,279.12 337.6,279.07 336.6,279.01 335.6,278.96 334.6,278.9 333.6,278.85 332.6,278.79 331.6,278.74 330.6,278.68 329.6,278.62 328.6,278.57 327.6,278.51 326.6,278.46 325.6,278.4 324.6,278.35 323.6,278.29 322.6,278.24 321.6,278.18 320.6,278.13 319.6,278.07 318.6,278.02 317.6,278.11 316.6,278.28 315.6,278.44 314.6,278.6 313.6,278.76 312.6,278.93 311.6,279.09 310.6,279.25 309.6,279.41 308.6,279.58 307.6,279.74 306.6,279.9 305.6,280.06 304.6,280.23 303.6,280.39 302.6,280.55 301.6,280.71 300.6,280.88 299.6,281.04 298.6,281.2 297.6,280.82 296.6,280.44 295.6,280.06 294.6,279.68 293.6,279.31 292.6,278.93 291.6,278.3 290.6,277.3 289.6,276.3 288.6,275.3 287.6,274.27 286.6,273.15 285.6,272.04 284.6,270.92 283.6,269.8 282.6,268.68 281.6,267.57 280.6,267.62 279.6,267.81 278.6,268 277.6,268.19 276.6,268.37 275.6,268.56 274.6,268.75 273.6,268.94 272.6,269.28 271.6,269.66 270.6,270.04 269.6,270.42 268.6,270.81 267.6,271.19 266.6,271.57 265.6,271.95 264.6,272.33 263.6,272.72 262.6,272.94 261.6,273.15 260.6,273.36 259.6,273.29 258.6,272.79 257.6,272.29 256.6,271.79 255.6,271.29 254.6,270.79 253.6,269.96 252.6,268.64 251.6,267.32 250.6,266 249.6,264.68 248.6,263.36 247.6,262.05 246.6,262.31 245.6,262.74 244.6,263.18 243.6,263.62 242.6,264.06 241.6,264.8 240.6,266.01 239.6,267.22 238.6,268.43 237.6,269.64 236.6,270.84 235.6,272.05 234.6,273.26 233.6,274.36 232.6,275.21 231.6,276.06 230.6,276.91 229.6,277.76 228.6,278.61 227.6,278.52 226.6,278.32 225.6,278.12 224.6,277.46 223.6,276.12 222.6,274.78 221.6,273.49 220.6,272.23 219.6,270.98 218.6,269.73 217.6,268.32 216.6,266.7 215.6,265.07 214.6,263.44 213.6,261.82 212.6,258.35 211.6,254.69 210.6,251.02 209.6,249.25 208.6,250.32 207.6,251.39 206.6,254.22 205.6,259.71 204.6,263.27 203.6,264.89 202.6,266.52 201.6,267.52 200.6,267.59 199.6,267.65 198.6,267.72 197.6,267.79 196.6,267.85 195.6,267.92 194.6,267.99 193.6,268.05 192.6,268.12 191.6,268.19 190.6,268.24 189.6,268.24 188.6,268.24 187.6,268.24 186.6,268.24 185.6,268.24 184.6,268.24 183.6,268.24 182.6,268.24 181.6,268.24 180.6,268.24 179.6,268.3 178.6,268.45 177.6,268.59 176.6,268.74 175.6,268.89 174.6,269.04 173.6,269.18 172.6,269.33 171.6,269.48 170.6,269.63 169.6,269.78 168.6,269.92 167.6,270.07 166.6,270.22 165.6,270.37 164.6,270.51 163.6,270.66 162.6,270.81 161.6,270.96 160.6,271.1 159.6,271.25 158.6,271.4 157.6,271.55 156.6,271.69 155.6,271.84 154.6,271.99 153.6,272.14 152.6,272.28 151.6,272.43 150.6,272.8 149.6,273.19 148.6,273.59 147.6,273.98 146.6,274.38 145.6,274.77 144.6,275.16 143.6,275.56 142.6,275.95 141.6,276.34 140.6,276.74 139.6,277.41 138.6,278.51 137.6,279.6 136.6,280.7 135.6,281.81 134.6,282.99 133.6,284.2 132.6,285.41 131.6,286.61 130.6,287.94 129.6,290.29 128.6,292.64 127.6,294.99 126.6,296.74 125.6,298.22 124.6,299.7'/></clipPath>
<g clip-path='url(#c2)'>
<path d='M124.6 268L131.72 234.49L135.28 230.06L142.4 249.27L135.28 277.48L131.72 281.8ZM142.4 249.27L148.88 225.42L152.12 224.83L158.6 246.13L152.12 268.1L148.88 269.18ZM158.6 246.13L166.85 225.23L170.98 225.34L179.23 245.04L170.98 265.61L166.85 266.16ZM179.23 245.04L188.53 225.58L193.18 225.71L202.48 245L193.18 264.29L188.53 264.42ZM202.48 245L210.56 238.37L214.6 232.9L222.68 246.27L214.6 260.71L210.56 249.75ZM222.68 246.27L231.02 220.59L235.19 223.83L243.54 245.08L235.19 268.18L231.02 271.39ZM243.54 245.08L249.99 229.52L253.21 227.06L259.66 245.37L253.21 265.65L249.99 262ZM259.66 245.37L268.01 224.75L272.19 226.62L280.54 245.85L272.19 265.6L268.01 266.89ZM280.54 245.85L290.7 220.52L295.79 216.28L305.95 244.8L295.79 274L290.7 272.13ZM305.95 244.8L315.76 217.73L320.66 218.13L330.46 245.3L320.66 272.47L315.76 272.67ZM330.46 245.3L339.78 217.31L344.44 217.03L353.76 245.07L344.44 273.42L339.78 273.29ZM353.76 245.07L360.6 216.04L364.01 215.84L370.85 244.81L364.01 273.96L360.6 273.87ZM370.85 244.81L380.83 216.41L385.81 216.84L395.79 244.99L385.81 273.03L380.83 273.38ZM395.79 244.99L405.62 216.89L410.53 216.67L420.36 244.88L410.53 273.17L405.62 272.99ZM420.36 244.88L427.42 215.91L430.95 215.75L438.01 244.81L430.95 273.91L427.42 273.78ZM438.01 244.81L446.94 216.24L451.41 216.58L460.33 244.95L451.41 273.2L446.94 273.49ZM460.33 244.95L466.82 217.77L470.06 217.9L476.54 245.04L470.06 272.11L466.82 272.21ZM476.54 245.04L483.41 217.42L486.84 217.3L493.71 245.13L486.84 272.89L483.41 272.73ZM493.71 245.13L501.37 216.78L505.21 216.64L512.87 245.23L505.21 273.74L501.37 273.57ZM512.87 245.23L519.9 216.11L523.42 215.99L530.45 245.3L523.42 274.59L519.9 274.42ZM530.45 245.3L539.89 216.72L544.6 217.01L554.04 245.3L544.6 273.59L539.89 273.88ZM554.04 245.3L563.71 217.64L568.55 217.45L578.22 245.3L568.55 273.15L563.71 272.96ZM578.22 245.3L586 216.76L589.89 216.61L597.67 245.3L589.89 273.99L586 273.84ZM597.67 245.3L605.34 216L609.18 215.97L616.86 245.3L609.18 274.63L605.34 274.6ZM616.86 245.3L623.7 216.85L627.13 217.06L633.97 245.3L627.13 273.54L623.7 273.75ZM633.97 245.3L640.71 217.82L644.08 217.69L650.81 245.3L644.08 272.91L640.71 272.78ZM650.81 245.3L660.06 217.09L664.69 216.92L673.94 245.3L664.69 273.68L660.06 273.51ZM673.94 245.3L682.74 216.34L687.14 216.53L695.94 245.3L687.14 274.07L682.74 274.26Z' fill='#8080ff' clip-path='url(#envc2)'/>
<path d='M124.65 234V301.38M127.65 233.63V294.8M131.65 228.48V289.38M134.65 226.12V284.61M137.65 222.53V281.95M140.65 220.66V278.48M144.65 221.17V276.09M147.65 219.54V276.23M150.65 220.71V274.28M153.65 219.24V272.22M156.65 218.74V273.52M160.65 220.27V272.14M163.65 219.37V272.74M166.65 219.15V271.78M169.65 220.23V270.19M173.65 219.62V271.15M176.65 221.3V269.97M179.65 220.32V268.19M182.65 219.83V269.9M186.65 220.96V269M189.65 220.07V270.16M192.65 221.93V269.51M195.65 220.89V268.16M199.65 220.48V269.45M202.65 222.4V268.09M205.65 227.52V261.83M208.65 235.22V250.88M211.65 234.34V256.37M215.65 227.6V265.89M218.65 222.75V270.76M221.65 217.42V273.54M224.65 212.51V279.85M228.65 212.29V279.62M231.65 213.85V278.54M234.65 216.68V274.93M237.65 220.73V269.74M241.65 223.19V267.09M244.65 226.58V264.25M247.65 227.53V263.44M250.65 223.85V267.68M254.65 221.63V271.19M257.65 217.7V274.22M260.65 217.25V274.96M263.65 216.93V272.82M266.65 218V273.36M270.65 221.15V271.2M273.65 221.88V270.89M276.65 221.83V269.85M279.65 223.02V268.24M283.65 221.15V271.12M286.65 220.27V274.2M289.65 215.3V276.18M292.65 210.36V280.98M296.65 209.05V281.15M299.65 206.02V283.35M302.65 208.92V282.22M305.65 208.17V280.36M308.65 208.16V281.63M312.65 210.61V280.22M315.65 210.15V280.76M318.65 210.29V279.89M321.65 211.32V278.9M325.65 210.17V280.6M328.65 211.93V280.06M331.65 210.33V278.8M334.65 209.46V280.95M338.65 210.77V280.14M341.65 209.42V281.53M344.65 208.77V281.12M347.65 209.56V279.98M351.65 208.46V281.8M354.65 209.99V281.11M357.65 208.44V282.2M360.65 207.61V281.96M363.65 208.69V280.99M367.65 207.41V282.53M370.65 209.31V281.96M373.65 208.17V280.29M376.65 207.76V281.85M380.65 209.71V280.63M383.65 208.85V281.47M386.65 208.72V280.7M389.65 210.21V279.2M393.65 209.61V280.5M396.65 211.3V279.9M399.65 209.74V278.58M402.65 208.9V280.76M406.65 210.14V279.89M409.65 208.85V281.35M412.65 208.29V280.92M415.65 209.08V279.76M418.65 208.07V281.67M422.65 209.58V280.97M425.65 208.13V282.15M428.65 207.39V281.89M431.65 208.46V280.91M435.65 207.28V282.54M438.65 209.29V281.82M441.65 208.15V280.13M444.65 207.75V281.79M448.65 209.59V280.55M451.65 208.73V281.48M454.65 208.61V280.69M457.65 210V279.17M461.65 209.42V280.55M464.65 211.54V279.48M467.65 210.51V277.68M470.65 209.96V279.76M473.65 211.16V278.87M477.65 209.95V280.43M480.65 211.88V280M483.65 210.21V278.83M486.65 209.27V280.84M490.65 210.75V280.13M493.65 209.36V281.41M496.65 208.71V281.15M499.65 209.74V280.15M503.65 208.63V281.88M506.65 210.38V281.34M509.65 208.82V280.07M512.65 207.99V282.25M516.65 209.3V281.43M519.65 208.02V282.89M522.65 207.47V282.52M525.65 208.32V281.42M528.65 207.69V282.92M532.65 209.68V281.84M535.65 208.63V282.58M538.65 208.3V281.94M541.65 209.84V280.58M545.65 209.07V281.77M548.65 211.33V280.86M551.65 210.11V279.22M554.65 209.61V280.86M558.65 211.43V279.67M561.65 210.13V280.93M564.65 209.51V280.6M567.65 210.46V279.55M571.65 209.38V281.32M574.65 211.06V280.71M577.65 209.53V279.38M580.65 208.73V281.6M583.65 209.96V280.72M587.65 208.71V282.21M590.65 210.67V281.78M593.65 208.97V280.62M596.65 208V282.56M600.65 209.51V281.85M603.65 208.08V283.06M606.65 207.39V282.8M609.65 208.69V281.58M613.65 207.96V282.82M616.65 210.16V281.87M619.65 208.98V280.18M622.65 208.53V281.88M626.65 210.29V280.65M629.65 209.39V281.62M632.65 209.22V280.84M635.65 210.52V279.32M638.65 209.9V280.75M642.65 211.65V279.96M645.65 210.17V278.58M648.65 209.42V280.86M651.65 210.59V279.93M655.65 209.39V281.48M658.65 211.29V281M661.65 209.64V279.79M664.65 208.71V281.79M668.65 210.17V281.03M671.65 208.79V282.3M674.65 208.15V281.99M677.65 209.15V280.96M681.65 208.05V282.68M684.65 210.07V281.81M687.65 208.86V280.15' stroke='#0000ff' stroke-width='1.3' fill='none' />
</g>
<polyline points='43.5,245.7 43.8,246.05 44.1,246.31 44.4,246.4 44.7,246.31 45,246.05 45.3,245.7 45.6,245.35 45.9,245.09 46.2,245 46.5,245.09 46.8,245.35 47.1,245.7 47.4,246.05 47.7,246.31 48,246.4 48.3,246.31 48.6,246.05 48.9,245.7 49.2,245.35 49.5,245.09 49.8,245 50.1,245.09 50.4,245.35 50.7,245.7 51,246.05 51.3,246.31 51.6,246.4 51.9,246.31 52.2,246.05 52.5,245.7 52.8,245.35 53.1,245.09 53.4,245 53.7,245.09 54,245.35 54.3,245.7 54.6,246.05 54.9,246.31 55.2,246.4 55.5,246.31 55.8,246.05 56.1,245.7 56.4,245.35 56.7,245.09 57,245 57.3,245.09 57.6,245.35 57.9,245.7 58.2,246.05 58.5,246.31 58.8,246.4 59.1,246.31 59.4,246.05 59.7,245.7 60,245.35 60.3,245.09 60.6,245 60.9,245.09 61.2,245.35 61.5,245.7 61.8,246.05 62.1,246.31 62.4,246.4 62.7,246.31 63,246.05 63.3,245.7 63.6,245.35 63.9,245.09 64.2,245 64.5,245.09 64.8,245.35 65.1,245.7 65.4,246.05 65.7,246.31 66,246.4 66.3,246.31 66.6,246.05 66.9,245.7 67.2,245.35 67.5,245.09 67.8,245 68.1,245.09 68.4,245.35 68.7,245.7 69,246.05 69.3,246.31 69.6,246.4 69.9,246.31 70.2,246.05 70.5,245.7 70.8,245.35 71.1,245.09 71.4,245 71.7,245.09 72,245.35 72.3,245.7 72.6,246.05 72.9,246.31 73.2,246.4 73.5,246.31 73.8,246.05 74.1,245.7 74.4,245.35 74.7,245.09 75,245 75.3,245.09 75.6,245.35 75.9,245.7 76.2,246.05 76.5,246.31 76.8,246.4 77.1,246.31 77.4,246.05 77.7,245.7 78,245.35 78.3,245.09 78.6,245 78.9,245.09 79.2,245.35 79.5,245.7 79.8,246.05 80.1,246.31 80.4,246.4 80.7,246.31 81,246.05 81.3,245.7 81.6,245.35 81.9,245.09 82.2,245 82.5,245.09 82.8,245.35 83.1,245.7 83.4,246.05 83.7,246.31 84,246.4 84.3,246.31 84.6,246.05 84.9,245.7 85.2,245.35 85.5,245.09 85.8,245 86.1,245.09 86.4,245.35 86.7,245.7 87,246.05 87.3,246.31 87.6,246.4 87.9,246.31 88.2,246.05 88.5,245.7 88.8,245.35 89.1,245.09 89.4,245 89.7,245.09 90,245.35 90.3,245.7 90.6,246.05 90.9,246.31 91.2,246.4 91.5,246.31 91.8,246.05 92.1,245.7 92.4,245.35 92.7,245.09 93,245 93.3,245.09 93.6,245.35 93.9,245.7 94.2,246.05 94.5,246.31 94.8,246.4 95.1,246.31 95.4,246.05 95.7,245.7 96,245.35 96.3,245.09 96.6,245 96.9,245.09 97.2,245.35 97.5,245.7 97.8,246.05 98.1,246.31 98.4,246.4 98.7,246.31 99,246.05 99.3,245.7 99.6,245.35 99.9,245.09 100.2,245 100.5,245.09 100.8,245.35 101.1,245.7 101.4,246.05 101.7,246.31 102,246.4 102.3,246.31 102.6,246.05 102.9,245.7 103.2,245.35 103.5,245.09 103.8,245 104.1,245.09 104.4,245.35 104.7,245.7 105,246.05 105.3,246.31 105.6,246.4 105.9,246.31 106.2,246.05 106.5,245.7 106.8,245.35 107.1,245.09 107.4,245 107.7,245.09 108,245.35 108.3,245.7 108.6,246.05 108.9,246.31 109.2,246.4 109.5,246.31 109.8,246.05 110.1,245.7 110.4,245.35 110.7,245.09 111,245 111.3,245.09 111.6,245.35 111.9,245.7 112.2,246.05 112.5,246.31 112.8,246.4 113.1,246.31 113.4,246.05 113.7,245.7 114,245.35 114.3,245.09 114.6,245 114.9,245.09 115.2,245.35 115.5,245.7 115.8,246.05 116.1,246.31 116.4,246.4 116.7,246.31 117,246.05 117.3,245.7 117.6,245.35 117.9,245.09 118.2,245 118.5,245.09 118.8,245.35 119.1,245.7 119.4,246.05 119.7,246.31 120,246.4 120.3,246.31 120.6,246.05 120.9,245.7 121.2,245.35 121.5,245.09 121.8,245 122.1,245.09 122.4,245.35 122.7,245.7 123,246.05 123.3,246.31 123.6,246.4 123.9,246.31 124.2,246.05 124.5,245.7' fill='none' stroke='#0000ff' stroke-width='1.8' stroke-linejoin='round' />
<path d='M50.5,370.5H248.5V474.5H50.5Z' fill='none' stroke='#404040' stroke-width='1' shape-rendering='crispEdges'/>
<path d='M50.5,396.5h5M248.5,396.5h-5M50.5,422.5h5M248.5,422.5h-5M50.5,448.5h5M248.5,448.5h-5M72.5,474.5v-5M72.5,370.5v5M116.5,474.5v-5M116.5,370.5v5M160.5,474.5v-5M160.5,370.5v5M204.5,474.5v-5M204.5,370.5v5' fill='none' stroke='#404040' stroke-width='1' shape-rendering='crispEdges'/>
<path d='M299.5,370.5H456.5V474.5H299.5Z' fill='none' stroke='#404040' stroke-width='1' shape-rendering='crispEdges'/>
<path d='M299.5,396.5h5M456.5,396.5h-5M299.5,422.5h5M456.5,422.5h-5M299.5,448.5h5M456.5,448.5h-5M317.5,474.5v-5M317.5,370.5v5M352.5,474.5v-5M352.5,370.5v5M386.5,474.5v-5M386.5,370.5v5M421.5,474.5v-5M421.5,370.5v5' fill='none' stroke='#404040' stroke-width='1' shape-rendering='crispEdges'/>
<path d='M507.5,370.5H692.5V474.5H507.5Z' fill='none' stroke='#404040' stroke-width='1' shape-rendering='crispEdges'/>
<path d='M507.5,405.5h5M692.5,405.5h-5M507.5,440.5h5M692.5,440.5h-5M554.5,474.5v-5M554.5,370.5v5M600.5,474.5v-5M600.5,370.5v5M646.5,474.5v-5M646.5,370.5v5' fill='none' stroke='#404040' stroke-width='1' shape-rendering='crispEdges'/>
<polyline points='50,396.1 50.4,396.1 50.8,396.1 51.2,396.1 51.6,396.1 52,396.1 52.4,396.1 52.8,396.1 53.2,396.1 53.6,396.1 54,396.1 54.4,396.1 54.8,396.1 55.2,396.1 55.6,396.1 56,396.1 56.4,396.1 56.8,396.1 57.2,396.1 57.6,396.1 58,396.1 58.4,396.1 58.8,396.1 59.2,396.1 59.6,396.1 60,396.1 60.4,396.1 60.8,396.1 61.2,396.1 61.6,396.1 62,396.1 62.4,396.1 62.8,396.1 63.2,396.1 63.6,396.1 64,396.1 64.4,396.1 64.8,396.1 65.2,396.1 65.6,396.1 66,396.1 66.4,396.1 66.8,396.1 67.2,396.1 67.6,396.1 68,396.1 68.4,396.1 68.8,396.1 69.2,396.1 69.6,396.1 70,396.1 70.4,396.1 70.8,396.1 71.2,396.1 71.6,396.1 72,396.1 72.4,396.1 72.8,396.16 73.2,396.61 73.6,397.43 74,398.52 74.4,399.78 74.8,401.12 75.2,402.45 75.6,403.68 76,404.7 76.4,405.44 76.8,405.78 77.2,405.76 77.6,405.58 78,405.28 78.4,404.87 78.8,404.37 79.2,403.79 79.6,403.15 80,402.46 80.4,401.73 80.8,401 81.2,400.26 81.6,399.53 82,398.84 82.4,398.19 82.8,397.6 83.2,397.09 83.6,396.66 84,396.35 84.4,396.16 84.8,396.1 85.2,396.1 85.6,396.1 86,396.1 86.4,396.1 86.8,396.1 87.2,396.1 87.6,396.1 88,396.1 88.4,396.1 88.8,396.1 89.2,396.1 89.6,396.1 90,396.1 90.4,396.11 90.8,396.17 91.2,396.3 91.6,396.47 92,396.7 92.4,396.97 92.8,397.28 93.2,397.62 93.6,397.99 94,398.38 94.4,398.79 94.8,399.21 95.2,399.64 95.6,400.07 96,400.5 96.4,400.91 96.8,401.31 97.2,401.7 97.6,402.05 98,402.38 98.4,402.67 98.8,402.92 99.2,403.12 99.6,403.27 100,403.37 100.4,403.4 100.8,403.4 101.2,403.4 101.6,403.4 102,403.4 102.4,403.4 102.8,403.4 103.2,403.4 103.6,403.4 104,403.4 104.4,403.4 104.8,403.4 105.2,403.4 105.6,403.4 106,403.4 106.4,403.4 106.8,403.4 107.2,403.4 107.6,403.4 108,403.4 108.4,403.4 108.8,403.4 109.2,403.4 109.6,403.4 110,403.4 110.4,403.4 110.8,403.4 111.2,403.4 111.6,403.4 112,403.4 112.4,403.4 112.8,403.4 113.2,403.4 113.6,403.4 114,403.4 114.4,403.4 114.8,403.4 115.2,403.4 115.6,403.4 116,403.4 116.4,403.37 116.8,402.71 117.2,401.34 117.6,399.48 118,397.35 118.4,395.17 118.8,393.14 119.2,391.5 119.6,390.46 120,390.24 120.4,391.23 120.8,393.36 121.2,396.42 121.6,400.18 122,404.43 122.4,408.95 122.8,413.53 123.2,417.94 123.6,421.98 124,425.41 124.4,428.03 124.8,429.62 125.2,429.99 125.6,429.69 126,429.04 126.4,428.05 126.8,426.76 127.2,425.21 127.6,423.44 128,421.46 128.4,419.33 128.8,417.07 129.2,414.71 129.6,412.29 130,409.84 130.4,407.4 130.8,405 131.2,402.67 131.6,400.45 132,398.38 132.4,396.47 132.8,394.78 133.2,393.32 133.6,392.15 134,391.28 134.4,390.75 134.8,390.6 135.2,390.93 135.6,391.76 136,393.03 136.4,394.71 136.8,396.76 137.2,399.13 137.6,401.78 138,404.67 138.4,407.75 138.8,410.99 139.2,414.33 139.6,417.74 140,421.18 140.4,424.6 140.8,427.95 141.2,431.2 141.6,434.31 142,437.22 142.4,439.9 142.8,442.31 143.2,444.4 143.6,446.13 144,447.46 144.4,448.34 144.8,448.73 145.2,448.62 145.6,448.08 146,447.14 146.4,445.84 146.8,444.21 147.2,442.29 147.6,440.1 148,437.69 148.4,435.08 148.8,432.31 149.2,429.41 149.6,426.43 150,423.38 150.4,420.31 150.8,417.24 151.2,414.22 151.6,411.27 152,408.44 152.4,405.75 152.8,403.23 153.2,400.92 153.6,398.86 154,397.08 154.4,395.61 154.8,394.49 155.2,393.74 155.6,393.41 156,393.49 156.4,393.9 156.8,394.59 157.2,395.56 157.6,396.77 158,398.21 158.4,399.84 158.8,401.64 159.2,403.59 159.6,405.67 160,407.84 160.4,410.09 160.8,412.38 161.2,414.7 161.6,417.02 162,419.31 162.4,421.56 162.8,423.73 163.2,425.81 163.6,427.76 164,429.56 164.4,431.19 164.8,432.63 165.2,433.84 165.6,434.81 166,435.5 166.4,435.91 166.8,435.99 167.2,435.78 167.6,435.3 168,434.58 168.4,433.64 168.8,432.48 169.2,431.14 169.6,429.64 170,427.98 170.4,426.2 170.8,424.31 171.2,422.33 171.6,420.29 172,418.19 172.4,416.07 172.8,413.93 173.2,411.81 173.6,409.71 174,407.67 174.4,405.69 174.8,403.8 175.2,402.02 175.6,400.36 176,398.86 176.4,397.52 176.8,396.36 177.2,395.42 177.6,394.7 178,394.22 178.4,394.01 178.8,394.08 179.2,394.45 179.6,395.08 180,395.96 180.4,397.06 180.8,398.37 181.2,399.85 181.6,401.5 182,403.28 182.4,405.17 182.8,407.16 183.2,409.22 183.6,411.33 184,413.46 184.4,415.61 184.8,417.73 185.2,419.82 185.6,421.84 186,423.79 186.4,425.63 186.8,427.34 187.2,428.91 187.6,430.31 188,431.52 188.4,432.51 188.8,433.27 189.2,433.77 189.6,433.99 190,433.93 190.4,433.6 190.8,433.04 191.2,432.26 191.6,431.28 192,430.11 192.4,428.78 192.8,427.31 193.2,425.71 193.6,424 194,422.21 194.4,420.34 194.8,418.42 195.2,416.47 195.6,414.51 196,412.55 196.4,410.61 196.8,408.72 197.2,406.89 197.6,405.13 198,403.48 198.4,401.94 198.8,400.53 199.2,399.29 199.6,398.21 200,397.32 200.4,396.65 200.8,396.21 201.2,396.01 201.6,396.07 202,396.4 202.4,396.96 202.8,397.73 203.2,398.71 203.6,399.87 204,401.18 204.4,402.64 204.8,404.22 205.2,405.9 205.6,407.67 206,409.5 206.4,411.38 206.8,413.28 207.2,415.19 207.6,417.09 208,418.96 208.4,420.78 208.8,422.52 209.2,424.18 209.6,425.74 210,427.16 210.4,428.44 210.8,429.55 211.2,430.48 211.6,431.2 212,431.71 212.4,431.97 212.8,431.97 213.2,431.75 213.6,431.32 214,430.7 214.4,429.9 214.8,428.94 215.2,427.84 215.6,426.6 216,425.25 216.4,423.79 216.8,422.25 217.2,420.63 217.6,418.96 218,417.25 218.4,415.51 218.8,413.76 219.2,412.02 219.6,410.29 220,408.6 220.4,406.95 220.8,405.37 221.2,403.87 221.6,402.46 222,401.16 222.4,399.99 222.8,398.96 223.2,398.08 223.6,397.37 224,396.84 224.4,396.51 224.8,396.4 225.2,396.54 225.6,396.94 226,397.59 226.4,398.46 226.8,399.54 227.2,400.79 227.6,402.21 228,403.77 228.4,405.44 228.8,407.22 229.2,409.07 229.6,410.98 230,412.93 230.4,414.89 230.8,416.85 231.2,418.78 231.6,420.66 232,422.48 232.4,424.21 232.8,425.83 233.2,427.32 233.6,428.66 234,429.82 234.4,430.8 234.8,431.56 235.2,432.09 235.6,432.36 236,432.39 236.4,432.34 236.8,432.22 237.2,432.04 237.6,431.8 238,431.5 238.4,431.14 238.8,430.71 239.2,430.22 239.6,429.66 240,429.03 240.4,428.33 240.8,427.56 241.2,426.72 241.6,425.81 242,424.82 242.4,423.76 242.8,422.63 243.2,421.41 243.6,420.12 244,418.75 244.4,417.3 244.8,415.76 245.2,414.15 245.6,412.44 246,410.66 246.4,408.79 246.8,406.83 247.2,404.78 247.6,402.64 248,400.41 248.4,398.09 248.5,397.5' fill='none' stroke='#ff0000' stroke-width='1.3' stroke-linejoin='round' />
<polyline points='50,396.1 50.4,396.1 50.8,396.1 51.2,396.1 51.6,396.1 52,396.1 52.4,396.1 52.8,396.1 53.2,396.1 53.6,396.1 54,396.1 54.4,396.1 54.8,396.1 55.2,396.1 55.6,396.1 56,396.1 56.4,396.1 56.8,396.1 57.2,396.1 57.6,396.1 58,396.1 58.4,396.1 58.8,396.1 59.2,396.1 59.6,396.1 60,396.1 60.4,396.1 60.8,396.1 61.2,396.1 61.6,396.1 62,396.1 62.4,396.1 62.8,396.1 63.2,396.1 63.6,396.1 64,396.1 64.4,396.1 64.8,396.1 65.2,396.1 65.6,396.1 66,396.1 66.4,396.1 66.8,396.1 67.2,396.1 67.6,396.1 68,396.1 68.4,396.1 68.8,396.1 69.2,396.1 69.6,396.1 70,396.1 70.4,396.1 70.8,396.1 71.2,396.1 71.6,396.1 72,396.1 72.4,396.1 72.8,396.1 73.2,396.1 73.6,396.1 74,396.1 74.4,396.1 74.8,396.1 75.2,396.1 75.6,396.1 76,396.1 76.4,396.1 76.8,396.1 77.2,396.1 77.6,396.1 78,396.1 78.4,396.1 78.8,396.1 79.2,396.1 79.6,396.1 80,396.1 80.4,396.1 80.8,396.1 81.2,396.1 81.6,396.1 82,396.1 82.4,396.1 82.8,396.1 83.2,396.1 83.6,396.1 84,396.1 84.4,396.1 84.8,396.1 85.2,396.1 85.6,396.1 86,396.1 86.4,396.1 86.8,396.1 87.2,396.1 87.6,396.1 88,396.1 88.4,396.1 88.8,396.1 89.2,396.1 89.6,396.1 90,396.1 90.4,396.1 90.8,396.1 91.2,396.1 91.6,396.1 92,396.1 92.4,396.1 92.8,396.1 93.2,396.1 93.6,396.1 94,396.1 94.4,396.1 94.8,396.34 95.2,397.02 95.6,398.05 96,399.35 96.4,400.85 96.8,402.47 97.2,404.13 97.6,405.75 98,407.25 98.4,408.55 98.8,409.58 99.2,410.26 99.6,410.5 100,410.44 100.4,410.28 100.8,410.02 101.2,409.67 101.6,409.24 102,408.73 102.4,408.17 102.8,407.56 103.2,406.9 103.6,406.21 104,405.49 104.4,404.76 104.8,404.02 105.2,403.28 105.6,402.56 106,401.86 106.4,401.19 106.8,400.55 107.2,399.97 107.6,399.44 108,398.99 108.4,398.6 108.8,398.31 109.2,398.11 109.6,398.01 110,398.02 110.4,398.15 110.8,398.37 111.2,398.68 111.6,399.05 112,399.47 112.4,399.94 112.8,400.42 113.2,400.92 113.6,401.4 114,401.87 114.4,402.3 114.8,402.68 115.2,402.99 115.6,403.23 116,403.37 116.4,403.37 116.8,402.76 117.2,401.57 117.6,400.11 118,398.7 118.4,397.63 118.8,397.2 119.2,397.9 119.6,399.84 120,402.81 120.4,406.59 120.8,410.95 121.2,415.67 121.6,420.52 122,425.3 122.4,429.77 122.8,433.71 123.2,436.9 123.6,439.12 124,440.15 124.4,439.87 124.8,438.47 125.2,436.12 125.6,432.97 126,429.19 126.4,424.92 126.8,420.32 127.2,415.55 127.6,410.76 128,406.1 128.4,401.74 128.8,397.82 129.2,394.5 129.6,391.94 130,390.28 130.4,389.7 130.8,389.77 131.2,389.98 131.6,390.32 132,390.76 132.4,391.29 132.8,391.91 133.2,392.59 133.6,393.32 134,394.1 134.4,394.89 134.8,395.7 135.2,396.63 135.6,397.73 136,399 136.4,400.41 136.8,401.96 137.2,403.64 137.6,405.42 138,407.29 138.4,409.25 138.8,411.27 139.2,413.35 139.6,415.56 140,418.42 140.4,421.86 140.8,425.71 141.2,429.78 141.6,433.92 142,437.95 142.4,441.68 142.8,444.95 143.2,447.59 143.6,449.42 144,450.26 144.4,450.16 144.8,449.54 145.2,448.48 145.6,446.99 146,445.12 146.4,442.91 146.8,440.39 147.2,437.59 147.6,434.55 148,431.3 148.4,427.89 148.8,424.35 149.2,420.7 149.6,417 150,413.27 150.4,409.54 150.8,405.86 151.2,402.27 151.6,398.78 152,395.45 152.4,392.3 152.8,389.38 153.2,386.72 153.6,384.34 154,382.3 154.4,380.62 154.8,379.34 155.2,378.49 155.6,378.12 156,378.25 156.4,378.92 156.8,380.07 157.2,381.66 157.6,383.66 158,386.02 158.4,388.71 158.8,391.68 159.2,394.9 159.6,398.32 160,401.9 160.4,405.6 160.8,409.38 161.2,413.2 161.6,417.02 162,420.8 162.4,424.5 162.8,428.08 163.2,431.5 163.6,434.72 164,437.69 164.4,440.38 164.8,442.74 165.2,444.74 165.6,446.33 166,447.48 166.4,448.15 166.8,448.29 167.2,447.93 167.6,447.14 168,445.95 168.4,444.38 168.8,442.48 169.2,440.28 169.6,437.8 170,435.09 170.4,432.18 170.8,429.11 171.2,425.9 171.6,422.59 172,419.22 172.4,415.82 172.8,412.43 173.2,409.07 173.6,405.79 174,402.61 174.4,399.57 174.8,396.71 175.2,394.06 175.6,391.65 176,389.51 176.4,387.69 176.8,386.22 177.2,385.12 177.6,384.44 178,384.2 178.4,384.41 178.8,385.02 179.2,385.99 179.6,387.31 180,388.94 180.4,390.85 180.8,393.01 181.2,395.39 181.6,397.97 182,400.71 182.4,403.59 182.8,406.58 183.2,409.64 183.6,412.75 184,415.87 184.4,418.99 184.8,422.06 185.2,425.07 185.6,427.98 186,430.76 186.4,433.38 186.8,435.81 187.2,438.03 187.6,440.01 188,441.71 188.4,443.11 188.8,444.17 189.2,444.88 189.6,445.19 190,445.08 190.4,444.57 190.8,443.68 191.2,442.45 191.6,440.9 192,439.06 192.4,436.96 192.8,434.64 193.2,432.11 193.6,429.41 194,426.58 194.4,423.63 194.8,420.6 195.2,417.53 195.6,414.42 196,411.33 196.4,408.27 196.8,405.28 197.2,402.39 197.6,399.62 198,397 198.4,394.58 198.8,392.36 199.2,390.39 199.6,388.69 200,387.29 200.4,386.23 200.8,385.52 201.2,385.21 201.6,385.32 202,385.85 202.4,386.77 202.8,388.04 203.2,389.64 203.6,391.54 204,393.7 204.4,396.08 204.8,398.67 205.2,401.43 205.6,404.33 206,407.33 206.4,410.41 206.8,413.53 207.2,416.66 207.6,419.77 208,422.83 208.4,425.81 208.8,428.67 209.2,431.39 209.6,433.93 210,436.27 210.4,438.36 210.8,440.19 211.2,441.71 211.6,442.9 212,443.72 212.4,444.15 212.8,444.15 213.2,443.75 213.6,442.97 214,441.86 214.4,440.42 214.8,438.7 215.2,436.73 215.6,434.52 216,432.11 216.4,429.53 216.8,426.81 217.2,423.97 217.6,421.04 218,418.06 218.4,415.05 218.8,412.04 219.2,409.06 219.6,406.13 220,403.29 220.4,400.57 220.8,397.99 221.2,395.58 221.6,393.37 222,391.4 222.4,389.68 222.8,388.24 223.2,387.13 223.6,386.35 224,385.95 224.4,385.95 224.8,386.34 225.2,387.1 225.6,388.19 226,389.59 226.4,391.26 226.8,393.19 227.2,395.35 227.6,397.7 228,400.22 228.4,402.88 228.8,405.65 229.2,408.5 229.6,411.41 230,414.35 230.4,417.29 230.8,420.2 231.2,423.05 231.6,425.82 232,428.48 232.4,431 232.8,433.35 233.2,435.51 233.6,437.44 234,439.11 234.4,440.51 234.8,441.6 235.2,442.36 235.6,442.75 236,442.75 236.4,442.35 236.8,441.59 237.2,440.49 237.6,439.09 238,437.4 238.4,435.46 238.8,433.29 239.2,430.93 239.6,428.41 240,425.75 240.4,422.98 240.8,420.14 241.2,417.24 241.6,414.32 242,411.41 242.4,408.53 242.8,405.72 243.2,403 243.6,400.41 244,397.96 244.4,395.7 244.8,393.64 245.2,391.83 245.6,390.27 246,389.02 246.4,388.08 246.8,387.5 247.2,387.3 247.6,387.31 248,387.37 248.4,387.54 248.5,387.6' fill='none' stroke='#0000ff' stroke-width='1.3' stroke-linejoin='round' />
<polyline points='299.5,421.6 316.6,421.6 316.6,436.6 318,439 320.3,443.2 323.1,447.4 326,448.8 329.7,449 332.5,451.1 336.2,455.4 340.9,461.9 341.1,381.2 351.2,396.2 351.2,429.6 351.5,412 355,408.5 359.25,406.9 364.25,409.4 368.6,406.9 369.5,406.6 369.5,398.9 371.1,400.4 371.55,400.35 372,400.21 372.45,399.99 372.9,399.7 373.35,399.36 373.8,399 374.25,398.64 374.7,398.3 375.15,398.01 375.6,397.79 376.05,397.65 376.5,397.6 377.27,397.7 378.03,398 378.8,398.48 379.57,399.1 380.33,399.82 381.1,400.6 381.87,401.38 382.63,402.1 383.4,402.72 384.17,403.2 384.93,403.5 385.7,403.6 386.47,403.5 387.23,403.2 388,402.72 388.77,402.1 389.53,401.38 390.3,400.6 391.07,399.82 391.83,399.1 392.6,398.48 393.37,398 394.13,397.7 394.9,397.6 395.67,397.7 396.43,398 397.2,398.48 397.97,399.1 398.73,399.82 399.5,400.6 400.27,401.38 401.03,402.1 401.8,402.72 402.57,403.2 403.33,403.5 404.1,403.6 404.87,403.5 405.63,403.2 406.4,402.72 407.17,402.1 407.93,401.38 408.7,400.6 409.47,399.82 410.23,399.1 411,398.48 411.77,398 412.53,397.7 413.3,397.6 414.07,397.7 414.83,398 415.6,398.48 416.37,399.1 417.13,399.82 417.9,400.6 418.67,401.38 419.43,402.1 420.2,402.72 420.97,403.2 421.73,403.5 422.5,403.6 423.27,403.5 424.03,403.2 424.8,402.72 425.57,402.1 426.33,401.38 427.1,400.6 427.87,399.82 428.63,399.1 429.4,398.48 430.17,398 430.93,397.7 431.7,397.6 432.47,397.7 433.23,398 434,398.48 434.77,399.1 435.53,399.82 436.3,400.6 437.07,401.38 437.83,402.1 438.6,402.72 439.37,403.2 440.13,403.5 440.9,403.6 441.67,403.5 442.43,403.2 443.2,402.72 443.97,402.1 444.73,401.38 445.5,400.6 446.27,399.82 447.03,399.1 447.8,398.48 448.57,398 449.33,397.7 450.1,397.6 450.59,397.66 451.08,397.83 451.58,398.1 452.07,398.45 452.56,398.86 453.05,399.3 453.54,399.74 454.03,400.15 454.52,400.5 455.02,400.77 455.51,400.94 456,401' fill='none' stroke='#ff0000' stroke-width='1.3' stroke-linejoin='round' />
<polyline points='299.5,421.6 334.2,421.6 334.2,442.7 335,445 337.2,449.7 340,456.3 342.8,462.4 343.3,381.6 347.5,383.3 350.3,386 351.4,388.6 351.4,420 351.5,399 353.6,405 358.6,410.6 363,407.5 368,410 369.5,409.4 369.5,401.25 374.25,401.9 374.55,401.94 374.86,402.05 375.16,402.24 375.47,402.47 375.77,402.75 376.07,403.05 376.38,403.35 376.68,403.62 376.99,403.86 377.29,404.05 377.6,404.16 377.9,404.2 378.67,404.1 379.43,403.82 380.2,403.38 380.97,402.8 381.73,402.12 382.5,401.4 383.27,400.68 384.03,400 384.8,399.42 385.57,398.98 386.33,398.7 387.1,398.6 387.87,398.7 388.63,398.98 389.4,399.42 390.17,400 390.93,400.68 391.7,401.4 392.47,402.12 393.23,402.8 394,403.38 394.77,403.82 395.53,404.1 396.3,404.2 397.07,404.1 397.83,403.82 398.6,403.38 399.37,402.8 400.13,402.12 400.9,401.4 401.67,400.68 402.43,400 403.2,399.42 403.97,398.98 404.73,398.7 405.5,398.6 406.27,398.7 407.03,398.98 407.8,399.42 408.57,400 409.33,400.68 410.1,401.4 410.87,402.12 411.63,402.8 412.4,403.38 413.17,403.82 413.93,404.1 414.7,404.2 415.47,404.1 416.23,403.82 417,403.38 417.77,402.8 418.53,402.12 419.3,401.4 420.07,400.68 420.83,400 421.6,399.42 422.37,398.98 423.13,398.7 423.9,398.6 424.67,398.7 425.43,398.98 426.2,399.42 426.97,400 427.73,400.68 428.5,401.4 429.27,402.12 430.03,402.8 430.8,403.38 431.57,403.82 432.33,404.1 433.1,404.2 433.87,404.1 434.63,403.82 435.4,403.38 436.17,402.8 436.93,402.12 437.7,401.4 438.47,400.68 439.23,400 440,399.42 440.77,398.98 441.53,398.7 442.3,398.6 443.07,398.7 443.83,398.98 444.6,399.42 445.37,400 446.13,400.68 446.9,401.4 447.67,402.12 448.43,402.8 449.2,403.38 449.97,403.82 450.73,404.1 451.5,404.2 451.88,404.14 452.25,403.95 452.62,403.66 453,403.27 453.38,402.83 453.75,402.35 454.12,401.87 454.5,401.43 454.88,401.04 455.25,400.75 455.62,400.56 456,400.5' fill='none' stroke='#0000ff' stroke-width='1.3' stroke-linejoin='round' />
<path d='M508.1,386V453.5' stroke='#ff0000' stroke-width='1.3'/>
<polyline points='508.2,431 508.2,442.5 508.45,417.87 508.7,440.01 508.95,420.2 509.2,438.02 509.45,422.09 509.7,436.43 509.95,423.62 510.2,435.17 510.45,424.86 510.7,434.16 510.95,425.87 511.2,433.35 511.45,426.69 511.7,432.72 511.95,427.36 512.2,432.22 512.45,427.91 512.7,431.83 512.95,428.37 513.2,431.52 513.45,428.74 513.7,431.29 513.95,429.06 514.2,431.11 514.45,429.32 514.7,430.98 514.95,429.54 515.2,430.88 515.45,429.73 515.7,430.81 515.95,429.9 516.2,430.77 516.45,430.04 516.7,430.75 516.95,430.16 517.2,430.74 517.45,430.27 517.7,430.74 517.95,430.37 518.2,430.76 518.45,430.46 518.7,430.78 518.95,430.55 519.2,430.8 519.45,430.63 519.7,430.84 519.95,430.7 520.2,430.87 520.45,430.77 520.7,430.92 520.95,430.84 521.2,430.96 521.45,430.9 521.7,431 521.95,430.96 522,431 522.53,431.05 523.26,431.14 524.12,431.23 525.07,431.31 526.05,431.34 527,431.3 527.93,431.22 528.89,431.12 529.88,430.98 530.89,430.77 531.93,430.45 533,430 534.12,429.34 535.3,428.47 536.5,427.49 537.7,426.52 538.88,425.66 540,425 541.04,424.57 542.03,424.29 542.98,424.11 543.94,424 544.94,423.91 546,423.8 547.21,423.52 548.54,423.07 549.92,422.64 551.23,422.42 552.39,422.61 553.3,423.4 553.9,425.29 554.25,428.23 554.45,431.57 554.58,434.68 554.74,436.9 555,437.6 555.37,436.6 555.77,434.38 556.2,431.27 556.64,427.62 557.07,423.75 557.5,420 557.92,415.84 558.33,410.9 558.75,405.74 559.17,400.93 559.58,397.03 560,394.6 560.4,393.78 560.79,394.14 561.17,395.41 561.57,397.33 562.01,399.61 562.5,402 563.06,405.04 563.68,409.05 564.34,413.43 565.01,417.59 565.67,420.91 566.3,422.8 566.91,422.85 567.51,421.46 568.11,419.24 568.7,416.8 569.26,414.75 569.8,413.7 570.3,413.85 570.76,414.77 571.19,416.07 571.63,417.39 572.1,418.36 572.6,418.6 573.17,418.13 573.8,417.24 574.44,415.99 575.08,414.46 575.68,412.71 576.2,410.8 576.63,408.65 577,406.18 577.33,403.49 577.63,400.67 577.95,397.81 578.3,395 578.68,391.9 579.08,388.36 579.49,384.78 579.9,381.55 580.3,379.06 580.7,377.7 581.09,377.75 581.49,378.97 581.88,380.92 582.27,383.2 582.64,385.36 583,387 583.32,388.31 583.61,389.68 583.89,390.94 584.19,391.94 584.51,392.51 584.9,392.5 585.35,391.59 585.84,389.84 586.37,387.67 586.93,385.49 587.51,383.69 588.1,382.7 588.69,382.55 589.28,382.94 589.89,383.72 590.53,384.75 591.23,385.89 592,387 592.79,388.38 593.59,390.2 594.44,392.12 595.39,393.84 596.49,395 597.8,395.3 599.38,394.3 601.2,392.17 603.17,389.5 605.2,386.86 607.21,384.84 609.1,384 610.83,384.75 612.47,386.71 614.09,389.27 615.74,391.86 617.49,393.87 619.4,394.7 621.54,393.99 623.86,392.13 626.27,389.69 628.71,387.25 631.08,385.36 633.3,384.6 635.35,385.34 637.29,387.19 639.16,389.61 641,392.02 642.87,393.87 644.8,394.6 646.8,393.83 648.85,391.94 650.92,389.49 652.98,387.04 655.02,385.15 657,384.4 658.9,385.15 660.71,387.04 662.51,389.49 664.32,391.94 666.2,393.83 668.2,394.6 670.38,393.89 672.71,392.08 675.12,389.71 677.51,387.32 679.8,385.44 681.9,384.6 683.91,385.03 685.91,386.35 687.81,388.18 689.51,390.14 690.94,391.87 692,393' fill='none' stroke='#ff0000' stroke-width='1.3' stroke-linejoin='round' />
<path d='M531.6,381V450' stroke='#0000ff' stroke-width='1.3'/>
<polyline points='507.6,438.9 531.8,438.9 531.8,441.5 532.05,401.73 532.3,437.54 532.55,405.55 532.8,434.38 533.05,408.66 533.3,431.86 533.55,411.18 533.8,429.87 534.05,413.24 534.3,428.29 534.55,414.92 534.8,427.04 535.05,416.3 535.3,426.07 535.55,417.44 535.8,425.32 536.05,418.39 536.3,424.74 536.55,419.18 536.8,424.3 537.05,419.84 537.3,423.97 537.55,420.4 537.8,423.74 538.05,420.87 538.3,423.58 538.55,421.29 538.8,423.47 539.05,421.64 539.3,423.42 539.55,421.96 539.8,423.4 540.05,422.24 540.3,423.42 540.55,422.5 540.8,423.45 541.05,422.73 541.3,423.51 541.55,422.94 541.8,423.59 542.05,423.14 542.3,423.68 542.55,423.33 542.8,423.77 543.05,423.51 543.3,423.88 543.55,423.68 543.8,423.99 544.05,423.85 544.3,424.11 544.55,424.01 544.8,424.24 545.05,424.17 545.3,424.36 545.55,424.32 545.8,424.49 546,424.5 546.31,424.37 546.73,424.18 547.23,423.96 547.79,423.74 548.39,423.54 549,423.4 549.69,423.16 550.48,422.78 551.3,422.42 552.1,422.26 552.81,422.46 553.35,423.2 553.69,424.88 553.87,427.45 553.96,430.39 554.02,433.17 554.11,435.28 554.3,436.2 554.61,435.77 554.98,434.37 555.39,432.3 555.8,429.85 556.18,427.32 556.5,425 556.75,422.95 556.95,420.96 557.12,418.88 557.28,416.58 557.44,413.93 557.6,410.8 557.77,406.82 557.94,402.01 558.11,396.86 558.28,391.82 558.44,387.38 558.6,384 558.75,381.64 558.9,379.92 559.04,378.79 559.18,378.21 559.33,378.13 559.5,378.5 559.68,379.52 559.87,381.27 560.07,383.52 560.27,386.04 560.48,388.61 560.7,391 560.9,393.23 561.07,395.48 561.26,397.78 561.47,400.15 561.74,402.62 562.1,405.2 562.57,408.31 563.15,412.01 563.79,415.81 564.44,419.21 565.06,421.7 565.6,422.8 566.08,422.14 566.52,420.06 566.93,417.07 567.31,413.71 567.67,410.51 568,408 568.29,405.95 568.53,403.91 568.75,402.02 568.96,400.45 569.17,399.36 569.4,398.9 569.66,399.29 569.92,400.43 570.19,402.05 570.46,403.87 570.73,405.61 571,407 571.24,408.12 571.46,409.23 571.67,410.25 571.92,411.14 572.22,411.84 572.6,412.3 573.11,412.52 573.72,412.56 574.39,412.41 575.07,412.06 575.69,411.53 576.2,410.8 576.6,409.87 576.93,408.73 577.21,407.41 577.45,405.9 577.67,404.23 577.9,402.4 578.11,400.3 578.29,397.89 578.45,395.32 578.61,392.72 578.79,390.23 579,388 579.25,385.83 579.52,383.57 579.81,381.43 580.1,379.6 580.4,378.29 580.7,377.7 580.99,378.02 581.29,379.13 581.59,380.76 581.9,382.63 582.2,384.47 582.5,386 582.79,387.36 583.08,388.8 583.36,390.21 583.66,391.48 583.97,392.51 584.3,393.2 584.65,393.42 585.01,393.21 585.39,392.77 585.79,392.27 586.23,391.89 586.7,391.8 587.15,392.15 587.56,392.83 588,393.63 588.55,394.33 589.27,394.73 590.25,394.6 591.57,393.67 593.18,392.06 594.97,390.13 596.82,388.28 598.6,386.87 600.2,386.3 601.53,386.86 602.69,388.3 603.78,390.19 604.92,392.09 606.22,393.58 607.8,394.2 609.72,393.7 611.91,392.36 614.26,390.61 616.68,388.84 619.06,387.47 621.3,386.9 623.4,387.41 625.43,388.71 627.42,390.41 629.41,392.1 631.43,393.4 633.5,393.9 635.65,393.33 637.87,391.96 640.11,390.18 642.33,388.41 644.51,387.05 646.6,386.5 648.57,387.03 650.43,388.39 652.25,390.14 654.07,391.9 655.93,393.26 657.9,393.8 659.99,393.26 662.17,391.91 664.39,390.15 666.63,388.39 668.85,387.04 671,386.5 673.12,387.03 675.26,388.36 677.37,390.09 679.42,391.83 681.37,393.2 683.2,393.8 684.97,393.46 686.71,392.47 688.36,391.11 689.84,389.64 691.08,388.34 692,387.5' fill='none' stroke='#0000ff' stroke-width='1.3' stroke-linejoin='round' />
<text transform='matrix(0.92,0,0,1,42,31)' font-size='11.5' text-anchor='end'>1</text>
<text transform='matrix(0.92,0,0,1,42,77)' font-size='11.5' text-anchor='end'>0</text>
<text transform='matrix(0.92,0,0,1,42,124)' font-size='11.5' text-anchor='end'>− 1</text>
<text transform='matrix(0.92,0,0,1,45.5,141)' font-size='11.5' text-anchor='middle'>1</text>
<text transform='matrix(0.92,0,0,1,207.25,141)' font-size='11.5' text-anchor='middle'>2</text>
<text transform='matrix(0.92,0,0,1,369,141)' font-size='11.5' text-anchor='middle'>3</text>
<text transform='matrix(0.92,0,0,1,530.75,141)' font-size='11.5' text-anchor='middle'>4</text>
<text transform='matrix(0.92,0,0,1,692.5,141)' font-size='11.5' text-anchor='middle'>5</text>
<text transform='matrix(0.92,0,0,1,369,158)' font-size='11.5' text-anchor='middle'>t</text>
<text transform='matrix(0.92,0,0,1,9,76)' font-size='11.5' text-anchor='start'>IA1</text>
<path d='M8,83.5H29' stroke='#ff0000' stroke-width='1'/>
<text transform='matrix(0.92,0,0,1,42,204.5)' font-size='11.5' text-anchor='end'>1</text>
<text transform='matrix(0.92,0,0,1,42,250.5)' font-size='11.5' text-anchor='end'>0</text>
<text transform='matrix(0.92,0,0,1,42,297)' font-size='11.5' text-anchor='end'>− 1</text>
<text transform='matrix(0.92,0,0,1,45.5,314)' font-size='11.5' text-anchor='middle'>1</text>
<text transform='matrix(0.92,0,0,1,207.25,314)' font-size='11.5' text-anchor='middle'>2</text>
<text transform='matrix(0.92,0,0,1,369,314)' font-size='11.5' text-anchor='middle'>3</text>
<text transform='matrix(0.92,0,0,1,530.75,314)' font-size='11.5' text-anchor='middle'>4</text>
<text transform='matrix(0.92,0,0,1,692.5,314)' font-size='11.5' text-anchor='middle'>5</text>
<text transform='matrix(0.92,0,0,1,369,331)' font-size='11.5' text-anchor='middle'>t</text>
<text transform='matrix(0.92,0,0,1,9,250)' font-size='11.5' text-anchor='start'>IA2</text>
<path d='M8,256.5H29' stroke='#0000ff' stroke-width='1'/>
<text transform='matrix(0.92,0,0,1,49,375)' font-size='11.5' text-anchor='end'>1.02</text>
<text transform='matrix(0.92,0,0,1,49,402)' font-size='11.5' text-anchor='end'>1</text>
<text transform='matrix(0.92,0,0,1,49,427)' font-size='11.5' text-anchor='end'>0.98</text>
<text transform='matrix(0.92,0,0,1,49,453)' font-size='11.5' text-anchor='end'>0.96</text>
<text transform='matrix(0.92,0,0,1,49,478.5)' font-size='11.5' text-anchor='end'>0.94</text>
<text transform='matrix(0.92,0,0,1,74.05,487)' font-size='11.5' text-anchor='middle'>1</text>
<text transform='matrix(0.92,0,0,1,118.15,487)' font-size='11.5' text-anchor='middle'>2</text>
<text transform='matrix(0.92,0,0,1,162.25,487)' font-size='11.5' text-anchor='middle'>3</text>
<text transform='matrix(0.92,0,0,1,206.35,487)' font-size='11.5' text-anchor='middle'>4</text>
<text transform='matrix(0.92,0,0,1,250.45,487)' font-size='11.5' text-anchor='middle'>5</text>
<text transform='matrix(0.92,0,0,1,151,504.5)' font-size='11.5' text-anchor='middle'>t</text>
<text transform='matrix(0.92,0,0,1,9.5,413.3)' font-size='11.5' text-anchor='start'>Wr1</text>
<path d='M8,419.5H29' stroke='#ff0000' stroke-width='1'/>
<text transform='matrix(0.92,0,0,1,9.5,434.6)' font-size='11.5' text-anchor='start'>Wr2</text>
<path d='M8,441.5H29' stroke='#0000ff' stroke-width='1'/>
<text transform='matrix(0.92,0,0,1,298,375)' font-size='11.5' text-anchor='end'>2</text>
<text transform='matrix(0.92,0,0,1,298,401)' font-size='11.5' text-anchor='end'>1</text>
<text transform='matrix(0.92,0,0,1,298,427)' font-size='11.5' text-anchor='end'>0</text>
<text transform='matrix(0.92,0,0,1,298,453)' font-size='11.5' text-anchor='end'>− 1</text>
<text transform='matrix(0.92,0,0,1,298,479)' font-size='11.5' text-anchor='end'>− 2</text>
<text transform='matrix(0.92,0,0,1,318.84,486.7)' font-size='11.5' text-anchor='middle'>1</text>
<text transform='matrix(0.92,0,0,1,353.52,486.7)' font-size='11.5' text-anchor='middle'>2</text>
<text transform='matrix(0.92,0,0,1,388.2,486.7)' font-size='11.5' text-anchor='middle'>3</text>
<text transform='matrix(0.92,0,0,1,422.88,486.7)' font-size='11.5' text-anchor='middle'>4</text>
<text transform='matrix(0.92,0,0,1,457.56,486.7)' font-size='11.5' text-anchor='middle'>5</text>
<text transform='matrix(0.92,0,0,1,379.5,504.5)' font-size='11.5' text-anchor='middle'>t</text>
<text transform='matrix(0.92,0,0,1,265.5,413)' font-size='11.5' text-anchor='start'>Tet1</text>
<path d='M263.5,419.5H285' stroke='#ff0000' stroke-width='1'/>
<text transform='matrix(0.92,0,0,1,265.5,434.6)' font-size='11.5' text-anchor='start'>Tet2</text>
<path d='M263.5,441.5H285' stroke='#0000ff' stroke-width='1'/>
<text transform='matrix(0.92,0,0,1,506,375)' font-size='11.5' text-anchor='end'>1</text>
<text transform='matrix(0.92,0,0,1,506,409.7)' font-size='11.5' text-anchor='end'>0.5</text>
<text transform='matrix(0.92,0,0,1,506,444)' font-size='11.5' text-anchor='end'>0</text>
<text transform='matrix(0.92,0,0,1,506,478.6)' font-size='11.5' text-anchor='end'>− 0.5</text>
<text transform='matrix(0.92,0,0,1,509.6,487)' font-size='11.5' text-anchor='middle'>1</text>
<text transform='matrix(0.92,0,0,1,555.7,487)' font-size='11.5' text-anchor='middle'>2</text>
<text transform='matrix(0.92,0,0,1,601.8,487)' font-size='11.5' text-anchor='middle'>3</text>
<text transform='matrix(0.92,0,0,1,647.9,487)' font-size='11.5' text-anchor='middle'>4</text>
<text transform='matrix(0.92,0,0,1,694,487)' font-size='11.5' text-anchor='middle'>5</text>
<text transform='matrix(0.92,0,0,1,601.5,504.5)' font-size='11.5' text-anchor='middle'>t</text>
<text transform='matrix(0.92,0,0,1,465.5,412.8)' font-size='11.5' text-anchor='start'>Mg1</text>
<path d='M464,419.5H485.5' stroke='#ff0000' stroke-width='1'/>
<text transform='matrix(0.92,0,0,1,465.5,434.2)' font-size='11.5' text-anchor='start'>Mg2</text>
<path d='M464,441.5H485.5' stroke='#0000ff' stroke-width='1'/>
</svg></body></html>
